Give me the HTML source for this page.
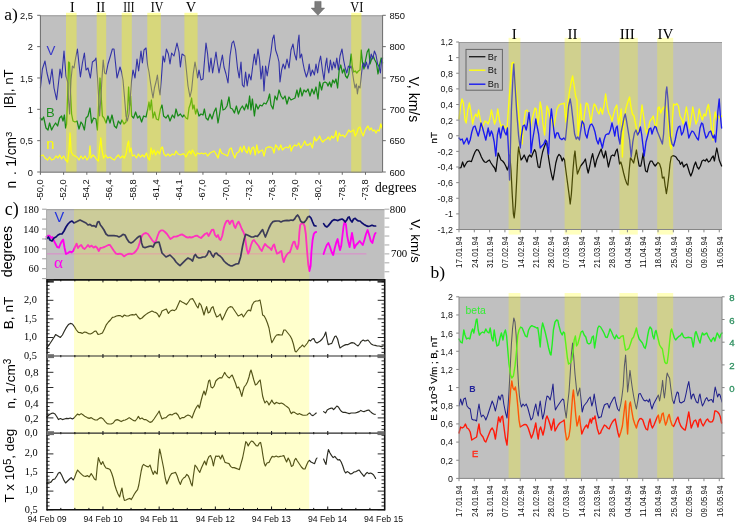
<!DOCTYPE html>
<html><head><meta charset="utf-8"><title>Figure</title>
<style>
html,body{margin:0;padding:0;background:#fff;}
body{width:735px;height:524px;overflow:hidden;font-family:"Liberation Sans",sans-serif;}
svg{display:block;will-change:transform;}
</style></head><body>
<svg width="735" height="524" viewBox="0 0 735 524">
<defs><clipPath id="clipq"><rect x="459.0" y="296.8" width="263.0" height="181.59999999999997"/></clipPath></defs>
<rect x="0" y="0" width="735" height="524" fill="#ffffff"/>
<rect x="40.4" y="15.3" width="342.20000000000005" height="156.7" fill="#c0c0c0" />
<line x1="40.4" y1="15.8" x2="382.6" y2="15.8" stroke="#9a9a9a" stroke-width="1"/>
<path d="M40.4,156 L43,155 L45,158 L47.6,160 L49.6,157 L51.6,160 L54,159 L56,156 L58,158 L59.6,155 L61.6,159 L63.6,156 L65.6,160 L67.6,162 L69,150 L70,133 L71.2,152 L73,155 L75,156 L77,157 L79,160 L81,156 L83,159 L85,156 L87,160 L89,157 L90,146 L91,158 L93,155 L95,157 L97,160 L98.4,161 L99.6,148 L100.8,138 L102,150 L103.6,158 L105.6,155 L107.6,158 L110,157 L112.4,159 L114.4,160 L116.4,157 L118.4,155 L120.4,158 L122.4,156 L124.4,158 L126,154 L127.6,144 L128.6,141 L129.6,152 L131,148 L132.4,156 L134.4,155 L136.4,158 L138.4,154 L140.4,157 L142.4,155 L144.4,157 L146.4,153 L148,158 L149.6,160 L151,148 L152.4,154 L154,150 L155.6,155 L157.6,151 L159.6,154 L161.2,148 L162.4,147 L164,154 L166,156 L168,154 L170,156 L172.4,154 L174.4,155 L176,151 L178,154 L180.4,155 L182.4,154 L184,154 L186,157 L188,153 L189.6,151 L191,154 L192.4,150 L194,153 L195.6,156 L197.6,153 L199.6,154 L201.6,153 L203.6,154 L205.6,153 L207.6,156 L210,153 L212,152 L214,151 L216,154 L218,158 L220,149 L221.6,153 L223.6,154 L225.6,155 L227.6,156 L229.6,149 L231.2,148 L232.8,153 L234.8,158 L236.8,153 L238.8,152 L240.4,147 L242,152 L244,146 L245.6,151 L247.2,153 L248.8,147 L250.4,154 L252,148 L253.6,147 L255.2,155 L256.8,145 L258.4,153 L260.4,151 L262.4,150 L264,156 L266,148 L268,147 L270.4,147 L272.4,148 L274,153 L275.6,145 L277.2,147 L278.8,150 L280.8,145 L282.4,150 L284.4,148 L286.4,147 L288.4,148 L290,145 L291.2,151 L292.8,147 L294.8,145 L296.8,146 L298.8,143 L300.8,148 L302.8,145 L304.8,141 L306.4,145 L308.4,145 L310.4,143 L312.4,148 L314.4,137 L316,141 L318,139 L319.6,136 L321.2,140 L322.8,142 L324.8,140 L326.8,139 L328.4,137 L330,140 L331.6,136 L333.2,138 L334.8,136 L336,131 L337.6,141 L339.2,133 L340.8,136 L342.8,135 L344.8,137 L346.8,134 L348.8,130 L350.4,132 L352,131 L353.6,130 L355.2,136 L356.8,133 L358.4,128 L360,127 L361.6,132 L363.2,136 L364.8,131 L366.4,128 L368,126 L369.6,130 L371.2,128 L372.8,131 L374.4,130 L376,133 L377.6,130 L379.2,131 L380.8,124 L382,128" fill="none" stroke="#ffff1a" stroke-width="1.3" stroke-linejoin="round" stroke-linecap="round" />
<path d="M40.4,118 L42,120 L43.6,117 L46,128 L48,130 L49.6,123 L51.6,130 L53.6,126 L55.6,123 L57.6,126 L59.6,118 L61.6,116 L63,121 L64.4,115 L65.6,128 L66.6,124 L67.6,96 L68.6,62 L69.6,63 L70.4,90 L71.6,114 L73,121 L75,122 L77,121 L79,129 L81,122 L82.4,124 L84.4,130 L86,118 L88,116 L90,108 L91.6,123 L93.6,118 L96,119 L97.4,130 L98.6,106 L100,78 L101.2,96 L102.4,116 L104,118 L106,123 L108,116 L110,123 L112,115 L114.4,126 L116.4,128 L118.4,121 L120.4,124 L122,120 L124,124 L126,122 L127.6,110 L128.6,87 L129.6,106 L130.6,96 L131.6,116 L133.6,118 L135.6,112 L137.6,118 L139.6,116 L141.6,122 L143.6,116 L146,117 L147.6,110 L149,102 L150,110 L151.4,100 L153,118 L154.6,112 L156.4,119 L158.4,120 L160.4,109 L162,105 L163.6,116 L166,118 L168,115 L170,121 L172.4,115 L174.4,118 L176,109 L178,116 L180.4,114 L182.4,117 L184,115 L186,118 L187.6,119 L189,108 L190.4,104 L191.6,98 L192.8,109 L194,105 L195.6,114 L197,109 L199,116 L201,114 L203,115 L204.4,109 L206,118 L208,120 L210,114 L212,119 L214,112 L216,108 L218,123 L219.6,114 L221.6,100 L223,110 L225,109 L227,106 L229,97 L230.4,108 L232.4,109 L234.4,113 L236.4,106 L238.4,114 L240.4,109 L242.4,106 L244.4,110 L246.4,104 L248,109 L249.6,96 L251,110 L252.4,99 L254.4,116 L256,104 L258,109 L260,105 L262,106 L264,103 L266,104 L268,100 L269.6,94 L271,105 L273,109 L275,96 L277,100 L279,90 L281,96 L283,99 L285,96 L287,104 L289,97 L291,100 L293,99 L295,98 L297,90 L298.4,97 L300.4,88 L302,96 L304,90 L306,92 L308,89 L310,96 L312,89 L314,94 L316,87 L318,99 L319.6,82 L321.6,90 L323.2,83 L325,82 L326.8,83 L328,86 L329.6,82 L331.2,87 L332.8,80 L334.4,83 L336,79 L337.6,88 L339.2,70 L340.8,65 L342.4,73 L344,69 L345.6,76 L347.2,78 L348.8,74 L350,64 L351.2,54 L352.4,67 L353.6,72 L355.2,71 L356.8,73 L358.4,71 L360,70 L361.2,50 L362.4,62 L364,69 L365.6,60 L367.2,52 L368.8,49 L370,64 L371.6,59 L373.2,56 L374.8,60 L376.4,63 L378,74 L379.6,65 L381.2,58 L382.6,63" fill="none" stroke="#178a17" stroke-width="1.25" stroke-linejoin="round" stroke-linecap="round" />
<path d="M40.4,88 L42.4,69 L45,61 L47,73 L49.6,84 L52,69 L54,88 L56.6,99.6 L58.6,82 L60,69 L61.6,78 L64,51 L66,76 L68,83 L68.4,98 L69.6,114 L71,80 L72.4,66 L74,68 L75.6,58 L77.4,49 L79,64 L80.4,77 L82.4,63 L84.4,53 L86,70 L88,68 L90.4,78 L92.4,62 L95,60 L96,58 L97.4,76 L98.6,96 L99.6,116 L101,96 L102,78 L103.2,60 L104.6,73 L106,74 L108,64 L110.4,56 L112.4,49 L114,49 L115.6,64 L117,78 L118.4,73 L120,67 L121.6,72 L123,80 L124.4,96 L126,116 L127.4,121 L129,114 L130.4,96 L131.6,80 L133,70 L135,78 L137,59 L138.6,71 L141,51 L142.4,63 L144,50 L146,48 L147.6,65 L149,72 L150.4,82 L151.6,90 L153,98 L154.4,88 L156,82 L157.4,75 L158.8,88 L160,95 L161.4,78 L163,56 L164.6,62 L166.4,49 L168.4,54 L170,64 L171.6,53 L174,56 L177,43 L179,52 L180.4,67 L182,54 L185,56 L186.4,70 L188,86 L190,97 L191.6,90 L193.2,74 L195,62 L196.4,70 L197.6,78 L199,70 L201,80 L203,79 L204.4,62 L206,43 L207.6,54 L209.2,72 L211,58 L212.6,73 L214.4,62 L216,52 L217.4,63 L219,73 L220.6,64 L222.4,55 L224,67 L226,74 L228,83 L230,56 L232,43 L233.6,41 L235.6,50 L237.6,69 L239.2,78 L241,62 L242.4,85 L244,87 L245.6,72 L247.2,86 L249,74 L251,80 L253,64 L254.4,54 L256,65 L258,49 L259.6,60 L261,79 L262.6,66 L264,91 L265.6,66 L267.2,76 L269,64 L271,52 L272.6,39 L274,35 L275.6,50 L277.6,56 L279,62 L280,82 L281.6,70 L283.2,64 L285,69 L287,59 L289,68 L291,50 L293,44 L294.6,54 L296.4,60 L298,42 L299,35 L300,58 L301.6,54 L303,63 L304.4,70 L306.4,77 L308,72 L309.2,64 L310.6,76 L312.4,70 L314.4,75 L316,64 L317.6,73 L319,63 L320.6,56 L322.4,70 L324,80 L325.6,64 L326.8,58 L327.2,65 L328.8,73 L330.4,60 L332,70 L333.6,62 L335.2,68 L336.8,58 L338.4,70 L340,56 L342,49 L343.6,60 L345.2,68 L346.8,73 L348.4,66 L350,68 L351.2,66 L352.4,72 L353.6,80 L355,88 L356.4,84 L357.4,94 L358.6,86 L360,88 L361.2,76 L362.4,66 L363.6,63 L365,67 L366.4,62 L368,69 L369.6,62 L371.2,54 L372.8,59 L374.4,51 L376,55 L377.6,64 L379.2,67 L380.4,73 L381.6,60 L382.6,58" fill="none" stroke="#3232a6" stroke-width="1.1" stroke-linejoin="round" stroke-linecap="round" />
<rect x="66" y="12.8" width="10.599999999999994" height="159.79999999999998" fill="#ffff00" fill-opacity="0.36"/>
<rect x="96.7" y="12.8" width="9.5" height="159.79999999999998" fill="#ffff00" fill-opacity="0.36"/>
<rect x="121.7" y="12.8" width="10.100000000000009" height="159.79999999999998" fill="#ffff00" fill-opacity="0.36"/>
<rect x="147.3" y="12.8" width="13.5" height="159.79999999999998" fill="#ffff00" fill-opacity="0.36"/>
<rect x="184.4" y="12.8" width="13.199999999999989" height="159.79999999999998" fill="#ffff00" fill-opacity="0.36"/>
<rect x="351.2" y="12.8" width="10.199999999999989" height="159.79999999999998" fill="#ffff00" fill-opacity="0.36"/>
<line x1="40.4" y1="15.3" x2="40.4" y2="172.0" stroke="#6a6a6a" stroke-width="1"/>
<line x1="40.4" y1="172.2" x2="382.6" y2="172.2" stroke="#6a6a6a" stroke-width="1"/>
<line x1="382.6" y1="15.3" x2="382.6" y2="172.0" stroke="#6a6a6a" stroke-width="1"/>
<line x1="37.199999999999996" y1="15.3" x2="40.4" y2="15.3" stroke="#6a6a6a" stroke-width="1"/>
<line x1="382.6" y1="15.3" x2="385.8" y2="15.3" stroke="#6a6a6a" stroke-width="1"/>
<line x1="37.199999999999996" y1="46.64" x2="40.4" y2="46.64" stroke="#6a6a6a" stroke-width="1"/>
<line x1="382.6" y1="46.64" x2="385.8" y2="46.64" stroke="#6a6a6a" stroke-width="1"/>
<line x1="37.199999999999996" y1="77.97999999999999" x2="40.4" y2="77.97999999999999" stroke="#6a6a6a" stroke-width="1"/>
<line x1="382.6" y1="77.97999999999999" x2="385.8" y2="77.97999999999999" stroke="#6a6a6a" stroke-width="1"/>
<line x1="37.199999999999996" y1="109.32" x2="40.4" y2="109.32" stroke="#6a6a6a" stroke-width="1"/>
<line x1="382.6" y1="109.32" x2="385.8" y2="109.32" stroke="#6a6a6a" stroke-width="1"/>
<line x1="37.199999999999996" y1="140.66" x2="40.4" y2="140.66" stroke="#6a6a6a" stroke-width="1"/>
<line x1="382.6" y1="140.66" x2="385.8" y2="140.66" stroke="#6a6a6a" stroke-width="1"/>
<line x1="37.199999999999996" y1="172.0" x2="40.4" y2="172.0" stroke="#6a6a6a" stroke-width="1"/>
<line x1="382.6" y1="172.0" x2="385.8" y2="172.0" stroke="#6a6a6a" stroke-width="1"/>
<text x="33.0" y="19.0" font-size="9.3" font-family="Liberation Sans, sans-serif" fill="#111" text-anchor="end" >2,5</text>
<text x="389.4" y="19.0" font-size="9.4" font-family="Liberation Sans, sans-serif" fill="#111" text-anchor="start" >850</text>
<text x="33.0" y="50.34" font-size="9.3" font-family="Liberation Sans, sans-serif" fill="#111" text-anchor="end" >2</text>
<text x="389.4" y="50.34" font-size="9.4" font-family="Liberation Sans, sans-serif" fill="#111" text-anchor="start" >800</text>
<text x="33.0" y="81.67999999999999" font-size="9.3" font-family="Liberation Sans, sans-serif" fill="#111" text-anchor="end" >1,5</text>
<text x="389.4" y="81.67999999999999" font-size="9.4" font-family="Liberation Sans, sans-serif" fill="#111" text-anchor="start" >750</text>
<text x="33.0" y="113.02" font-size="9.3" font-family="Liberation Sans, sans-serif" fill="#111" text-anchor="end" >1</text>
<text x="389.4" y="113.02" font-size="9.4" font-family="Liberation Sans, sans-serif" fill="#111" text-anchor="start" >700</text>
<text x="33.0" y="144.35999999999999" font-size="9.3" font-family="Liberation Sans, sans-serif" fill="#111" text-anchor="end" >0,5</text>
<text x="389.4" y="144.35999999999999" font-size="9.4" font-family="Liberation Sans, sans-serif" fill="#111" text-anchor="start" >650</text>
<text x="33.0" y="175.7" font-size="9.3" font-family="Liberation Sans, sans-serif" fill="#111" text-anchor="end" >0</text>
<text x="389.4" y="175.7" font-size="9.4" font-family="Liberation Sans, sans-serif" fill="#111" text-anchor="start" >600</text>
<line x1="40.4" y1="172.0" x2="40.4" y2="174.8" stroke="#6a6a6a" stroke-width="1"/>
<text transform="translate(42.8,200.6) rotate(-90) scale(1,1)" font-size="9.3" font-family="Liberation Sans, sans-serif" fill="#111" text-anchor="start" >-50,0</text>
<line x1="63.62" y1="172.0" x2="63.62" y2="174.8" stroke="#6a6a6a" stroke-width="1"/>
<text transform="translate(66.02,200.6) rotate(-90) scale(1,1)" font-size="9.3" font-family="Liberation Sans, sans-serif" fill="#111" text-anchor="start" >-52,0</text>
<line x1="86.84" y1="172.0" x2="86.84" y2="174.8" stroke="#6a6a6a" stroke-width="1"/>
<text transform="translate(89.24000000000001,200.6) rotate(-90) scale(1,1)" font-size="9.3" font-family="Liberation Sans, sans-serif" fill="#111" text-anchor="start" >-54,2</text>
<line x1="110.06" y1="172.0" x2="110.06" y2="174.8" stroke="#6a6a6a" stroke-width="1"/>
<text transform="translate(112.46000000000001,200.6) rotate(-90) scale(1,1)" font-size="9.3" font-family="Liberation Sans, sans-serif" fill="#111" text-anchor="start" >-56,4</text>
<line x1="133.28" y1="172.0" x2="133.28" y2="174.8" stroke="#6a6a6a" stroke-width="1"/>
<text transform="translate(135.68,200.6) rotate(-90) scale(1,1)" font-size="9.3" font-family="Liberation Sans, sans-serif" fill="#111" text-anchor="start" >-58,8</text>
<line x1="156.5" y1="172.0" x2="156.5" y2="174.8" stroke="#6a6a6a" stroke-width="1"/>
<text transform="translate(158.9,200.6) rotate(-90) scale(1,1)" font-size="9.3" font-family="Liberation Sans, sans-serif" fill="#111" text-anchor="start" >-61,4</text>
<line x1="179.72" y1="172.0" x2="179.72" y2="174.8" stroke="#6a6a6a" stroke-width="1"/>
<text transform="translate(182.12,200.6) rotate(-90) scale(1,1)" font-size="9.3" font-family="Liberation Sans, sans-serif" fill="#111" text-anchor="start" >-64,1</text>
<line x1="202.94" y1="172.0" x2="202.94" y2="174.8" stroke="#6a6a6a" stroke-width="1"/>
<text transform="translate(205.34,200.6) rotate(-90) scale(1,1)" font-size="9.3" font-family="Liberation Sans, sans-serif" fill="#111" text-anchor="start" >-67,0</text>
<line x1="226.16" y1="172.0" x2="226.16" y2="174.8" stroke="#6a6a6a" stroke-width="1"/>
<text transform="translate(228.56,200.6) rotate(-90) scale(1,1)" font-size="9.3" font-family="Liberation Sans, sans-serif" fill="#111" text-anchor="start" >-70,0</text>
<line x1="249.38" y1="172.0" x2="249.38" y2="174.8" stroke="#6a6a6a" stroke-width="1"/>
<text transform="translate(251.78,200.6) rotate(-90) scale(1,1)" font-size="9.3" font-family="Liberation Sans, sans-serif" fill="#111" text-anchor="start" >-73,2</text>
<line x1="272.59999999999997" y1="172.0" x2="272.59999999999997" y2="174.8" stroke="#6a6a6a" stroke-width="1"/>
<text transform="translate(274.99999999999994,200.6) rotate(-90) scale(1,1)" font-size="9.3" font-family="Liberation Sans, sans-serif" fill="#111" text-anchor="start" >-76,3</text>
<line x1="295.82" y1="172.0" x2="295.82" y2="174.8" stroke="#6a6a6a" stroke-width="1"/>
<text transform="translate(298.21999999999997,200.6) rotate(-90) scale(1,1)" font-size="9.3" font-family="Liberation Sans, sans-serif" fill="#111" text-anchor="start" >-79,0</text>
<line x1="319.03999999999996" y1="172.0" x2="319.03999999999996" y2="174.8" stroke="#6a6a6a" stroke-width="1"/>
<text transform="translate(321.43999999999994,200.6) rotate(-90) scale(1,1)" font-size="9.3" font-family="Liberation Sans, sans-serif" fill="#111" text-anchor="start" >-80,2</text>
<line x1="342.26" y1="172.0" x2="342.26" y2="174.8" stroke="#6a6a6a" stroke-width="1"/>
<text transform="translate(344.65999999999997,200.6) rotate(-90) scale(1,1)" font-size="9.3" font-family="Liberation Sans, sans-serif" fill="#111" text-anchor="start" >-78,3</text>
<line x1="365.47999999999996" y1="172.0" x2="365.47999999999996" y2="174.8" stroke="#6a6a6a" stroke-width="1"/>
<text transform="translate(367.87999999999994,200.6) rotate(-90) scale(1,1)" font-size="9.3" font-family="Liberation Sans, sans-serif" fill="#111" text-anchor="start" >-73,8</text>
<text x="375" y="191.5" font-size="13.6" font-family="Liberation Serif, serif" fill="#000" text-anchor="start" >degrees</text>
<text x="70.10000000000001" y="12.0" font-size="14" font-family="Liberation Serif, serif" fill="#000" text-anchor="start" textLength="4.6" lengthAdjust="spacingAndGlyphs">I</text>
<text x="96.3" y="12.0" font-size="14" font-family="Liberation Serif, serif" fill="#000" text-anchor="start" textLength="8.8" lengthAdjust="spacingAndGlyphs">II</text>
<text x="123.30000000000001" y="12.0" font-size="14" font-family="Liberation Serif, serif" fill="#000" text-anchor="start" textLength="11.2" lengthAdjust="spacingAndGlyphs">III</text>
<text x="150.79999999999998" y="12.0" font-size="14" font-family="Liberation Serif, serif" fill="#000" text-anchor="start" textLength="12.6" lengthAdjust="spacingAndGlyphs">IV</text>
<text x="185.70000000000002" y="12.0" font-size="14" font-family="Liberation Serif, serif" fill="#000" text-anchor="start" textLength="10.4" lengthAdjust="spacingAndGlyphs">V</text>
<text x="350.3" y="12.0" font-size="14" font-family="Liberation Serif, serif" fill="#000" text-anchor="start" textLength="13" lengthAdjust="spacingAndGlyphs">VI</text>
<path d="M314.8,1.4 H321.1 V8.1 H324.6 L317.9,15.3 L311.2,8.1 H314.8 Z" fill="#7c7c7c" stroke="#606060" stroke-width="0.5"/>
<text x="4.2" y="19.6" font-size="17.5" font-family="Liberation Serif, serif" fill="#000" text-anchor="start" >a)</text>
<text x="46.4" y="54.8" font-size="13.3" font-family="Liberation Sans, sans-serif" fill="#3838c8" text-anchor="start" >V</text>
<text x="46.0" y="117.1" font-size="13" font-family="Liberation Sans, sans-serif" fill="#1f8f1f" text-anchor="start" >B</text>
<text x="46.2" y="148.8" font-size="14.6" font-family="Liberation Sans, sans-serif" fill="#ffff00" text-anchor="start" >n</text>
<text transform="translate(12.9,108.2) rotate(-90) scale(1,1)" font-size="13.4" font-family="Liberation Sans, sans-serif" fill="#000" text-anchor="start" >|B|, nT</text>
<text transform="translate(16.0,188.6) rotate(-90) scale(1,1)" font-size="13.8" font-family="Liberation Sans, sans-serif" fill="#000" text-anchor="start" >n</text>
<text transform="translate(16.0,175.0) rotate(-90) scale(1,1)" font-size="13.8" font-family="Liberation Sans, sans-serif" fill="#000" text-anchor="start" >.</text>
<text transform="translate(16.0,166.8) rotate(-90) scale(1,1)" font-size="13.8" font-family="Liberation Sans, sans-serif" fill="#000" text-anchor="start" >1/cm<tspan dy="-4.5" font-size="9.5">3</tspan></text>
<text transform="translate(409.4,76.8) rotate(90) scale(1,1)" font-size="14.0" font-family="Liberation Sans, sans-serif" fill="#000" text-anchor="start" >V, km/s</text>
<rect x="46.6" y="209.2" width="337.9" height="70.10000000000002" fill="#c0c0c0" />
<line x1="46.6" y1="209.7" x2="384.5" y2="209.7" stroke="#9a9a9a" stroke-width="1"/>
<line x1="46.6" y1="253.9" x2="366.4" y2="253.9" stroke="#dd88cc" stroke-width="1.0"/>
<path d="M46.4,237 L48,235.6 L49.6,235.6 L51,238 L52.4,237 L54,241 L55.6,244 L57.2,247 L59,247.6 L60.4,244 L62,241 L63.2,239.6 L64.6,248 L66,254 L68,253 L70,251.6 L71.6,252.4 L73.2,251 L75,247 L76.6,243.6 L78,248 L79.6,246 L81.2,245 L83,248 L84.6,249 L86.4,247 L88,245 L89.6,247 L91.6,245.6 L93.6,247.6 L95.6,246.4 L97.2,248 L98.8,251 L100.4,248 L102.4,247.6 L104.4,247 L106.4,246 L108.4,245 L110,245 L112,248 L114,251 L116,253.6 L118,254 L120,253.6 L122,254.4 L124,256.4 L126,255 L128,254 L130,253.6 L132,254 L134,253 L136,251 L138,248 L139.6,243 L141,238 L142.4,235 L144,233.6 L146,233 L148,234 L150,237 L152,240 L154,242.4 L156,241 L157.6,236 L159.2,232 L161,230.4 L163,230.4 L165,232 L167,234 L169,237 L170.4,239 L172,238 L174,236.6 L176,236.6 L178,236 L180,235 L182,234.4 L184,235.6 L186,237 L188,237.6 L190,237 L191,237.6 L193,237 L195,236 L197,235.6 L199,237 L201,238 L203,236 L205,234 L207,233 L208.6,236 L210.2,233 L211.8,230 L213.4,229.6 L215,235 L216.6,237 L218,235 L219.4,239 L220.6,240 L222.2,236 L223.8,228 L225,224 L226.6,221 L228.2,220.6 L229.8,224 L231.4,221 L232.6,220.6 L234.2,226 L235.4,228 L237,224 L238.6,221.6 L240.2,225 L241.8,229 L243.4,232 L244.6,235 L245.8,243 L247,250 L248.2,253.6 L249.4,251 L251,245 L252.6,241 L254,240 L255.4,242 L257,244 L258.6,246 L260.2,249 L261.8,251 L263.4,247 L265,244 L266.6,245.6 L268.2,247 L269.8,248 L271.4,250 L273,245.6 L274.2,244.4 L275.4,249 L277,253.6 L278.6,253 L280.2,251.6 L281.4,251 L282.6,258 L283.8,262 L285,258 L286.6,255 L288.2,253 L289.8,252.4 L291,249 L292.2,245 L293.4,242 L294.6,241.6 L295.8,246 L297.4,249 L298.6,244 L299.4,232 L300.2,225 L301.4,223.6 L303,223 L304.6,226 L305.8,234 L307,250 L308.2,264 L309.4,271 L310.6,266 L311.4,252 L312.6,240 L313.8,234 L315,232.4 L316.2,232" fill="none" stroke="#ff00ee" stroke-width="1.85" stroke-linejoin="round" stroke-linecap="round" />
<path d="M323.6,254 L325.2,249 L326.8,245 L328.4,243 L330,247 L331.6,252 L333.2,255 L334.8,248 L336.4,242 L337.6,239 L338.8,245 L340,250 L341.2,246 L342.4,236 L343.6,226 L344.8,221 L346,225 L347.2,236 L348.4,242 L349.6,247 L350.8,240 L352,233 L353.2,240 L354.4,248 L356,245 L358,243 L359.6,241 L361.2,243 L362.8,245 L364.4,240 L366,234 L367.6,230 L369.2,235 L370.8,241 L372.4,243 L373.6,238 L374.8,234 L375.6,233" fill="none" stroke="#ff00ee" stroke-width="1.85" stroke-linejoin="round" stroke-linecap="round" />
<path d="M46.4,239 L48.4,237 L50,240 L52,241 L54,238 L56,237 L58,235 L60,234 L62,234 L64,231 L66,227 L68,224 L70,222 L72,221 L74,223 L76,222 L78,221 L80,220 L82,221 L84,222 L86,223 L88,225 L90,224.4 L92,226 L94,225.6 L96,227 L97.6,222 L99,221.6 L100.4,225 L102,227 L104,230 L106,234 L108,235.6 L111,235.6 L114,235.6 L117,236 L119,237 L121,236 L123,234.4 L125,235 L127,239 L129,242 L131,243 L133,242 L135,240 L137,238 L139,236.4 L140.4,236 L141.6,243 L143,247 L145,247.6 L147,247 L149,246.4 L151,246 L153,247 L155,243 L157,242.4 L159,242 L160.4,247 L162,253 L164,255 L166,257 L168,256 L170,255 L172,257 L174,259 L176,262 L178,264 L180,265.6 L182,263.6 L184,261.6 L186,259.6 L188,258 L190,259 L191,259.6 L192.6,261 L194.2,256 L195.4,254.4 L197,257 L199,258 L201,257.6 L203,257 L205,257 L207,255 L208.6,251 L210.2,251.6 L211.8,255 L213.4,257 L215,253.6 L216.6,253 L218.2,255 L220,256 L222,258 L224,261 L226,263 L228,264.4 L230,265.6 L232,266 L234,265 L236,264 L238.6,263.6 L240.6,257 L242.6,246 L244.2,239 L245.6,234.4 L247.4,235 L249.4,236 L251.4,237 L253.4,237 L255.4,236 L257.4,236.4 L259.4,234 L261.4,231 L262.6,229.6 L264.2,234 L265.4,237 L267,233 L269,228 L271,224 L273,221.6 L275,221.2 L277,221 L279,221 L281,222 L283,221 L285,220.6 L287,220.4 L289,220.6 L291,220 L293,220.4 L294.6,219 L296.2,216.4 L297.6,215 L299,217 L300.6,221 L302.2,222.4 L304.2,222.4 L306.2,220 L307.8,217 L309.4,216.4 L311,218 L312.6,222 L314.2,225.6 L316,226" fill="none" stroke="#0c0c6e" stroke-width="1.7" stroke-linejoin="round" stroke-linecap="round" />
<path d="M323.6,223.6 L325.2,226 L326.8,227 L328.4,225.6 L330,223.6 L332,221 L334,219.6 L336,220 L338,220.6 L340,219.6 L342,219 L343.6,220 L345.2,222 L346.8,220 L348,217.6 L349.2,217 L350.4,220 L352,222 L353.6,219 L355.2,218.4 L356.8,220 L358.4,221 L360,221 L362,223 L364,224.4 L366,225.6 L368,226.4 L370,226 L372,225.2 L374,226 L375.6,226" fill="none" stroke="#0c0c6e" stroke-width="1.7" stroke-linejoin="round" stroke-linecap="round" />
<path d="M46.8,348 L49,345 L51,342 L53.6,338 L55.6,334.6 L58,336 L60.4,337.4 L62.4,335 L64.4,331 L66.4,327.4 L68.4,324.6 L70.4,323.4 L72.4,324 L74.4,326.6 L76.4,330 L78.4,332.4 L80.4,332.6 L82.4,333.4 L84.4,332 L86.4,332.4 L88.4,333.6 L90.4,334 L92.4,333 L94.4,331.4 L96,331 L98,334.4 L100,334 L102.4,333 L104.4,329 L106.4,324.6 L108.4,322 L110.4,320 L112.4,317.4 L114.4,317 L116.4,316 L118.4,315.6 L120.4,315.6 L122.4,317 L124.4,315 L126.4,316 L128.4,316 L130.4,315 L132.4,314.6 L134.4,315 L136,314 L138,317 L140,319 L142,318 L144,316 L146,314.4 L148,313 L150,312 L152,311 L154,312 L156,312.6 L157.6,314 L159.2,317 L160.8,314 L162,311 L164,310 L166.4,309 L168.4,313.4 L170.4,311 L172.4,310 L174.4,310.6 L176,309.4 L178,305 L180,300.6 L182,302 L184,303 L186.4,304.6 L188.4,302 L190.4,299 L191,299 L192.6,298.6 L194.6,302 L196.6,306 L198,308 L199.4,303 L201,305 L202.6,310 L204,315 L205.4,310 L206.6,306.6 L208.2,313 L209.8,312 L211.4,308 L213,306.6 L214.6,312 L216.6,317 L218.6,316 L220.2,314 L222.2,320 L224.2,316 L226.2,311.4 L228.2,308 L230.2,306.6 L232.2,307 L234.2,310 L236.2,313 L238.2,316 L240.2,315 L241.8,314 L243.4,317 L245.4,314 L247.4,311 L249,310 L250.6,311 L252.2,305 L254,302 L256,301 L258,301 L260,300 L261.4,307 L262.6,315 L264.2,316 L265.8,319 L267.4,323 L269,328 L270.6,337 L271.8,342.6 L273.4,340 L275,337 L276.6,335 L278.6,334.6 L280.6,335 L282.2,335 L283.8,330 L285.4,330 L287,332 L288.6,334 L290.2,336 L291.8,339 L293.4,344 L295,351 L296.2,352 L297.8,350 L299.4,348 L301,346.6 L302.6,345 L304.2,347 L305.8,345 L307.4,343 L309,340 L310.6,341 L312.2,339 L313.8,338.6 L315.4,342 L317,343 L318.6,342 L320.2,341 L322.2,339 L324.2,336 L325.8,332 L327,339 L328.2,344.6 L329.8,344 L331.8,343.4 L333.2,340 L334.8,336.6 L336,336 L337.6,339 L338.8,344 L340,348 L342,346.6 L344,345.4 L346,344.6 L348,344.6 L350,343.4 L352,342.6 L354,343 L356,344.6 L358,346 L359.6,344 L361.2,341.4 L363.2,340 L364.8,341 L366.4,340.6 L368,340 L369.6,342 L371.2,344 L373.2,345 L375.2,345.4 L377.2,346 L379.2,346 L381.2,346.6 L383.2,346" fill="none" stroke="#2a2a20" stroke-width="1.15" stroke-linejoin="round" stroke-linecap="round" />
<path d="M46.8,417 L49,415 L51,413.6 L53,413 L55,414 L57,417 L58.4,419.6 L60.4,418.6 L62.4,419.6 L64.4,419 L66.4,418.4 L68.4,418.6 L70.4,418 L72.4,419 L74,418 L76,415.6 L77.6,414 L79.2,415 L81.2,413.6 L83.2,415 L85.2,416.6 L87.2,417.6 L89.2,418.4 L91.2,417.6 L93.2,419 L95.2,420 L97.2,420 L99.2,418.4 L101.2,417.6 L103.2,419 L105.2,421.6 L107.2,423.6 L109.2,424 L111.2,424 L113.2,423 L115.2,420.4 L117.2,419.6 L119.2,420.4 L121.2,421.6 L123.2,420.4 L125.2,420 L127.2,419 L129.2,417.6 L131.2,419 L133.2,420.4 L135.2,421 L136.8,419 L138.4,416.4 L140,419 L142,418 L144,419.6 L146,419.6 L148,421 L150,422.4 L152,421.6 L154,419 L156,416 L158,413 L159.2,411 L160.4,415 L162,419 L164,418 L166,417.6 L168,415.6 L170,414.4 L172,415 L174,413.6 L176,413 L178,415 L180,419 L182,417.6 L184,417.6 L186,416 L188,415 L190.4,416 L192,418 L193.4,414 L195,410 L196.6,407 L198,405 L199.4,408 L201,401 L202.6,395 L204,391 L205.4,395 L207,389 L208.6,381 L209.8,380 L211,387 L212.6,388 L214.2,386 L215.8,381 L217.8,379 L219.8,377.6 L221.8,378 L223.4,375 L224.6,372.4 L226.2,375 L227.8,377 L229.4,378 L231,376 L232.2,375 L233.8,379 L235.4,383 L237,388 L238.6,387 L240.2,391 L241.8,396.4 L243,391 L244.2,387 L245.8,385 L247.4,382 L249,377 L250.2,372 L251,370 L252.2,374 L253.8,380 L255.4,385 L257,384 L258.6,381.6 L260.2,380 L261.4,388 L262.6,396 L263.8,400 L265,403 L266.6,401 L267.8,402.4 L269,405 L270.6,402.4 L271.8,400 L273,402.4 L274.6,404 L276.2,402.4 L277.8,403 L279.4,403.6 L281.4,403 L283.4,404 L285.4,405.6 L287.4,407 L289,408.4 L290.2,411.6 L291.4,413.6 L293,412 L294.6,412.4 L296.2,413.6 L297.8,414.4 L299.4,413.6 L301,414.4 L303,415.2 L305,415.2 L307,415 L308.6,413.6 L309.8,413 L311.4,415 L313,415.6 L314.6,414.4 L316.2,413" fill="none" stroke="#2a2a20" stroke-width="1.15" stroke-linejoin="round" stroke-linecap="round" />
<path d="M323.6,411.6 L325.6,413 L327.2,410 L328.8,409 L330.4,408.4 L332,408 L333.6,409.6 L335.2,408 L336.8,406 L338.4,407 L340,409.6 L341.6,411.6 L343.2,412.4 L345.2,412.4 L347.2,413 L349.2,413.6 L351.2,413 L353.2,413 L355.2,413 L357.2,412.4 L359.2,411.6 L360.8,410.4 L362.4,411.2 L364,411.6 L365.6,411 L367.2,410.4 L368.8,410 L370.4,411.6 L372,413 L373.6,414 L375.2,414.4" fill="none" stroke="#2a2a20" stroke-width="1.15" stroke-linejoin="round" stroke-linecap="round" />
<path d="M46.8,483 L48.8,482 L50.8,482.4 L52.8,479.6 L54.8,479 L56.8,476 L58.4,473 L60,472.4 L61.6,475 L63.6,479.6 L65.6,483 L67.6,481 L69.6,479 L71.2,477.6 L73.2,480 L74.4,478 L76,473.6 L77.6,470 L79.6,472.4 L81.6,474.4 L83.6,476 L85.6,476.4 L87.6,475.6 L89.2,477 L91.2,473.6 L92.8,476 L94.4,479 L96,480 L97.2,467 L98.4,457.6 L100,462 L101.2,464.4 L102.8,461.6 L104.4,465.6 L106,468 L108,468.6 L110,469.6 L111.6,473 L113.2,478 L114.8,485 L116.4,490 L118,494 L119.6,497 L120.8,492 L122,488 L123.2,496 L124.4,500.4 L126,500 L128,499 L130,498.4 L131.2,499.6 L132.8,497 L134.4,494 L136,491.6 L137.6,489.6 L138.8,485 L140,478 L141.2,471 L142.4,466 L143.6,464.4 L145.2,465.6 L146.8,466.4 L148.4,467 L150,465 L151.6,470 L153.2,474.4 L154.8,471 L156,473 L157.2,474 L158.4,460 L159.6,449 L160.8,454 L162,460 L163.6,468 L165.2,478 L166.8,484 L168.4,480 L170,476 L171.6,473.6 L173.6,473 L175.6,472.4 L177.2,476 L178.8,481 L180.4,484.4 L182,480 L183.6,478 L185.2,477 L186.8,474.4 L188.4,476 L190,480 L191,483.6 L192.2,486 L193.4,476 L195,465 L196.6,467 L198.2,470 L199.8,472.4 L201.4,468 L203,464.4 L204.6,461 L206.2,465 L207.4,460 L209,456.4 L210.6,455.6 L212.2,460 L213.4,466 L214.6,460 L215.8,456 L217.4,456.4 L219,456 L220.6,459 L222.2,455 L223.4,458 L225,462.4 L227,463 L229,463.6 L230.6,466.4 L232.2,467.6 L234.2,467.6 L236.2,468.4 L237.8,469 L239.4,469.6 L241,463.6 L242.6,458 L244.2,450 L245.8,441.6 L247,443 L248.2,446 L249.8,443 L251.4,441 L253,441.6 L254.6,443.6 L256.2,445.6 L257.8,446 L259.4,443 L260.6,442.4 L261.8,448 L263,456 L264.2,463 L265.4,466 L267,463 L269,462.4 L270.6,459 L272.2,456.4 L274.2,457 L276.2,456 L278.2,457 L280.2,456.4 L282.2,456 L283.8,455.6 L285,458.4 L286.6,462 L288.2,458 L289.8,461 L291.4,466.4 L293,465.6 L294.6,460 L295.8,458.4 L297.4,461 L299.4,464 L301.4,467 L303.4,469 L305,469 L306.6,465 L308.2,461.6 L309.4,460.4 L311,462 L313,463 L314.6,463.6 L316.2,459 L317,458" fill="none" stroke="#2a2a20" stroke-width="1.15" stroke-linejoin="round" stroke-linecap="round" />
<path d="M323.6,459 L324.8,462 L326,464.4 L327.2,456 L328.4,449.6 L330,453 L331.6,455.6 L333.2,457.6 L334.8,456.4 L336.4,458.4 L338,460 L339.6,459.6 L341.2,462 L342.8,466 L344.4,471 L345.6,473 L347.2,471.6 L348.8,472.4 L350.4,474 L352,473.6 L354,472 L356,471.6 L358,470.4 L359.2,470 L360.8,472.4 L362.4,474.4 L364,476.4 L365.6,474 L367.2,472.4 L368.8,473.6 L370.4,473 L372,473.6 L373.6,475 L374.8,477 L375.6,478.4" fill="none" stroke="#2a2a20" stroke-width="1.15" stroke-linejoin="round" stroke-linecap="round" />
<rect x="74.0" y="209.2" width="235.2" height="300.6" fill="#ffff00" fill-opacity="0.2"/>
<line x1="42.1" y1="209.2" x2="46.6" y2="209.2" stroke="#9a9a9a" stroke-width="1"/>
<line x1="42.1" y1="219.11999999999998" x2="46.6" y2="219.11999999999998" stroke="#9a9a9a" stroke-width="1"/>
<line x1="42.1" y1="229.04" x2="46.6" y2="229.04" stroke="#9a9a9a" stroke-width="1"/>
<line x1="42.1" y1="238.95999999999998" x2="46.6" y2="238.95999999999998" stroke="#9a9a9a" stroke-width="1"/>
<line x1="42.1" y1="248.88" x2="46.6" y2="248.88" stroke="#9a9a9a" stroke-width="1"/>
<line x1="42.1" y1="258.8" x2="46.6" y2="258.8" stroke="#9a9a9a" stroke-width="1"/>
<line x1="42.1" y1="268.71999999999997" x2="46.6" y2="268.71999999999997" stroke="#9a9a9a" stroke-width="1"/>
<line x1="42.1" y1="278.64" x2="46.6" y2="278.64" stroke="#9a9a9a" stroke-width="1"/>
<line x1="46.6" y1="209.2" x2="46.6" y2="279.3" stroke="#aaaaaa" stroke-width="1"/>
<line x1="384.5" y1="209.2" x2="389.3" y2="209.2" stroke="#a8a8a8" stroke-width="1"/>
<line x1="384.5" y1="218.14" x2="389.3" y2="218.14" stroke="#a8a8a8" stroke-width="1"/>
<line x1="384.5" y1="227.07999999999998" x2="389.3" y2="227.07999999999998" stroke="#a8a8a8" stroke-width="1"/>
<line x1="384.5" y1="236.01999999999998" x2="389.3" y2="236.01999999999998" stroke="#a8a8a8" stroke-width="1"/>
<line x1="384.5" y1="244.95999999999998" x2="389.3" y2="244.95999999999998" stroke="#a8a8a8" stroke-width="1"/>
<line x1="384.5" y1="253.89999999999998" x2="389.3" y2="253.89999999999998" stroke="#a8a8a8" stroke-width="1"/>
<line x1="384.5" y1="262.84" x2="389.3" y2="262.84" stroke="#a8a8a8" stroke-width="1"/>
<line x1="384.5" y1="271.78" x2="389.3" y2="271.78" stroke="#a8a8a8" stroke-width="1"/>
<text x="38.8" y="212.79999999999998" font-size="10.3" font-family="Liberation Serif, serif" fill="#000" text-anchor="end" >180</text>
<text x="38.8" y="232.6" font-size="10.3" font-family="Liberation Serif, serif" fill="#000" text-anchor="end" >140</text>
<text x="38.8" y="252.5" font-size="10.3" font-family="Liberation Serif, serif" fill="#000" text-anchor="end" >100</text>
<text x="38.8" y="272.3" font-size="10.3" font-family="Liberation Serif, serif" fill="#000" text-anchor="end" >60</text>
<text x="389.8" y="213.0" font-size="10.8" font-family="Liberation Serif, serif" fill="#000" text-anchor="start" >800</text>
<text x="391.0" y="256.9" font-size="10.8" font-family="Liberation Serif, serif" fill="#000" text-anchor="start" >700</text>
<text x="4.8" y="215.4" font-size="18" font-family="Liberation Serif, serif" fill="#000" text-anchor="start" >c)</text>
<text x="54.6" y="221.8" font-size="14.5" font-family="Liberation Sans, sans-serif" fill="#2233dd" text-anchor="start" >V</text>
<text x="54.0" y="267.8" font-size="17" font-family="Liberation Serif, serif" fill="#ff00ee" text-anchor="start" >α</text>
<text transform="translate(12.3,277.2) rotate(-90) scale(1,1)" font-size="14.2" font-family="Liberation Sans, sans-serif" fill="#000" text-anchor="start" >degrees</text>
<text transform="translate(411.4,219.2) rotate(90) scale(1,1)" font-size="13.4" font-family="Liberation Sans, sans-serif" fill="#000" text-anchor="start" >V, km/s</text>
<line x1="46.9" y1="279.9" x2="384.8" y2="279.9" stroke="#111" stroke-width="1.7"/>
<rect x="46.6" y="279.6" width="7.2" height="3.0" fill="#333" />
<rect x="377.5" y="279.6" width="7.0" height="3.0" fill="#333" />
<line x1="46.9" y1="356.0" x2="384.8" y2="356.0" stroke="#2a2a2a" stroke-width="1.1"/>
<line x1="46.9" y1="433.1" x2="384.8" y2="433.1" stroke="#2a2a2a" stroke-width="1.1"/>
<line x1="46.9" y1="509.7" x2="384.8" y2="509.7" stroke="#111" stroke-width="1.5"/>
<line x1="47.0" y1="279" x2="47.0" y2="510.4" stroke="#111" stroke-width="1.5"/>
<line x1="384.7" y1="279" x2="384.7" y2="510.4" stroke="#111" stroke-width="1.6"/>
<line x1="46.6" y1="356.1" x2="53.4" y2="356.1" stroke="#111" stroke-width="0.9"/>
<line x1="377.7" y1="356.1" x2="384.5" y2="356.1" stroke="#111" stroke-width="0.9"/>
<line x1="46.6" y1="352.38" x2="49.6" y2="352.38" stroke="#111" stroke-width="0.9"/>
<line x1="381.5" y1="352.38" x2="384.5" y2="352.38" stroke="#111" stroke-width="0.9"/>
<line x1="46.6" y1="348.65999999999997" x2="49.6" y2="348.65999999999997" stroke="#111" stroke-width="0.9"/>
<line x1="381.5" y1="348.65999999999997" x2="384.5" y2="348.65999999999997" stroke="#111" stroke-width="0.9"/>
<line x1="46.6" y1="344.93999999999994" x2="49.6" y2="344.93999999999994" stroke="#111" stroke-width="0.9"/>
<line x1="381.5" y1="344.93999999999994" x2="384.5" y2="344.93999999999994" stroke="#111" stroke-width="0.9"/>
<line x1="46.6" y1="341.2199999999999" x2="49.6" y2="341.2199999999999" stroke="#111" stroke-width="0.9"/>
<line x1="381.5" y1="341.2199999999999" x2="384.5" y2="341.2199999999999" stroke="#111" stroke-width="0.9"/>
<line x1="46.6" y1="337.4999999999999" x2="53.4" y2="337.4999999999999" stroke="#111" stroke-width="0.9"/>
<line x1="377.7" y1="337.4999999999999" x2="384.5" y2="337.4999999999999" stroke="#111" stroke-width="0.9"/>
<line x1="46.6" y1="333.77999999999986" x2="49.6" y2="333.77999999999986" stroke="#111" stroke-width="0.9"/>
<line x1="381.5" y1="333.77999999999986" x2="384.5" y2="333.77999999999986" stroke="#111" stroke-width="0.9"/>
<line x1="46.6" y1="330.05999999999983" x2="49.6" y2="330.05999999999983" stroke="#111" stroke-width="0.9"/>
<line x1="381.5" y1="330.05999999999983" x2="384.5" y2="330.05999999999983" stroke="#111" stroke-width="0.9"/>
<line x1="46.6" y1="326.3399999999998" x2="49.6" y2="326.3399999999998" stroke="#111" stroke-width="0.9"/>
<line x1="381.5" y1="326.3399999999998" x2="384.5" y2="326.3399999999998" stroke="#111" stroke-width="0.9"/>
<line x1="46.6" y1="322.6199999999998" x2="49.6" y2="322.6199999999998" stroke="#111" stroke-width="0.9"/>
<line x1="381.5" y1="322.6199999999998" x2="384.5" y2="322.6199999999998" stroke="#111" stroke-width="0.9"/>
<line x1="46.6" y1="318.89999999999975" x2="53.4" y2="318.89999999999975" stroke="#111" stroke-width="0.9"/>
<line x1="377.7" y1="318.89999999999975" x2="384.5" y2="318.89999999999975" stroke="#111" stroke-width="0.9"/>
<line x1="46.6" y1="315.1799999999997" x2="49.6" y2="315.1799999999997" stroke="#111" stroke-width="0.9"/>
<line x1="381.5" y1="315.1799999999997" x2="384.5" y2="315.1799999999997" stroke="#111" stroke-width="0.9"/>
<line x1="46.6" y1="311.4599999999997" x2="49.6" y2="311.4599999999997" stroke="#111" stroke-width="0.9"/>
<line x1="381.5" y1="311.4599999999997" x2="384.5" y2="311.4599999999997" stroke="#111" stroke-width="0.9"/>
<line x1="46.6" y1="307.73999999999967" x2="49.6" y2="307.73999999999967" stroke="#111" stroke-width="0.9"/>
<line x1="381.5" y1="307.73999999999967" x2="384.5" y2="307.73999999999967" stroke="#111" stroke-width="0.9"/>
<line x1="46.6" y1="304.01999999999964" x2="49.6" y2="304.01999999999964" stroke="#111" stroke-width="0.9"/>
<line x1="381.5" y1="304.01999999999964" x2="384.5" y2="304.01999999999964" stroke="#111" stroke-width="0.9"/>
<line x1="46.6" y1="300.2999999999996" x2="53.4" y2="300.2999999999996" stroke="#111" stroke-width="0.9"/>
<line x1="377.7" y1="300.2999999999996" x2="384.5" y2="300.2999999999996" stroke="#111" stroke-width="0.9"/>
<line x1="46.6" y1="296.5799999999996" x2="49.6" y2="296.5799999999996" stroke="#111" stroke-width="0.9"/>
<line x1="381.5" y1="296.5799999999996" x2="384.5" y2="296.5799999999996" stroke="#111" stroke-width="0.9"/>
<line x1="46.6" y1="292.85999999999956" x2="49.6" y2="292.85999999999956" stroke="#111" stroke-width="0.9"/>
<line x1="381.5" y1="292.85999999999956" x2="384.5" y2="292.85999999999956" stroke="#111" stroke-width="0.9"/>
<line x1="46.6" y1="289.13999999999953" x2="49.6" y2="289.13999999999953" stroke="#111" stroke-width="0.9"/>
<line x1="381.5" y1="289.13999999999953" x2="384.5" y2="289.13999999999953" stroke="#111" stroke-width="0.9"/>
<line x1="46.6" y1="285.4199999999995" x2="49.6" y2="285.4199999999995" stroke="#111" stroke-width="0.9"/>
<line x1="381.5" y1="285.4199999999995" x2="384.5" y2="285.4199999999995" stroke="#111" stroke-width="0.9"/>
<line x1="46.6" y1="281.6999999999995" x2="49.6" y2="281.6999999999995" stroke="#111" stroke-width="0.9"/>
<line x1="381.5" y1="281.6999999999995" x2="384.5" y2="281.6999999999995" stroke="#111" stroke-width="0.9"/>
<line x1="46.6" y1="433.1" x2="53.4" y2="433.1" stroke="#111" stroke-width="0.9"/>
<line x1="377.7" y1="433.1" x2="384.5" y2="433.1" stroke="#111" stroke-width="0.9"/>
<line x1="46.6" y1="429.3" x2="49.6" y2="429.3" stroke="#111" stroke-width="0.9"/>
<line x1="381.5" y1="429.3" x2="384.5" y2="429.3" stroke="#111" stroke-width="0.9"/>
<line x1="46.6" y1="425.5" x2="49.6" y2="425.5" stroke="#111" stroke-width="0.9"/>
<line x1="381.5" y1="425.5" x2="384.5" y2="425.5" stroke="#111" stroke-width="0.9"/>
<line x1="46.6" y1="421.7" x2="49.6" y2="421.7" stroke="#111" stroke-width="0.9"/>
<line x1="381.5" y1="421.7" x2="384.5" y2="421.7" stroke="#111" stroke-width="0.9"/>
<line x1="46.6" y1="417.9" x2="53.4" y2="417.9" stroke="#111" stroke-width="0.9"/>
<line x1="377.7" y1="417.9" x2="384.5" y2="417.9" stroke="#111" stroke-width="0.9"/>
<line x1="46.6" y1="414.09999999999997" x2="49.6" y2="414.09999999999997" stroke="#111" stroke-width="0.9"/>
<line x1="381.5" y1="414.09999999999997" x2="384.5" y2="414.09999999999997" stroke="#111" stroke-width="0.9"/>
<line x1="46.6" y1="410.29999999999995" x2="49.6" y2="410.29999999999995" stroke="#111" stroke-width="0.9"/>
<line x1="381.5" y1="410.29999999999995" x2="384.5" y2="410.29999999999995" stroke="#111" stroke-width="0.9"/>
<line x1="46.6" y1="406.49999999999994" x2="49.6" y2="406.49999999999994" stroke="#111" stroke-width="0.9"/>
<line x1="381.5" y1="406.49999999999994" x2="384.5" y2="406.49999999999994" stroke="#111" stroke-width="0.9"/>
<line x1="46.6" y1="402.69999999999993" x2="53.4" y2="402.69999999999993" stroke="#111" stroke-width="0.9"/>
<line x1="377.7" y1="402.69999999999993" x2="384.5" y2="402.69999999999993" stroke="#111" stroke-width="0.9"/>
<line x1="46.6" y1="398.8999999999999" x2="49.6" y2="398.8999999999999" stroke="#111" stroke-width="0.9"/>
<line x1="381.5" y1="398.8999999999999" x2="384.5" y2="398.8999999999999" stroke="#111" stroke-width="0.9"/>
<line x1="46.6" y1="395.0999999999999" x2="49.6" y2="395.0999999999999" stroke="#111" stroke-width="0.9"/>
<line x1="381.5" y1="395.0999999999999" x2="384.5" y2="395.0999999999999" stroke="#111" stroke-width="0.9"/>
<line x1="46.6" y1="391.2999999999999" x2="49.6" y2="391.2999999999999" stroke="#111" stroke-width="0.9"/>
<line x1="381.5" y1="391.2999999999999" x2="384.5" y2="391.2999999999999" stroke="#111" stroke-width="0.9"/>
<line x1="46.6" y1="387.4999999999999" x2="53.4" y2="387.4999999999999" stroke="#111" stroke-width="0.9"/>
<line x1="377.7" y1="387.4999999999999" x2="384.5" y2="387.4999999999999" stroke="#111" stroke-width="0.9"/>
<line x1="46.6" y1="383.6999999999999" x2="49.6" y2="383.6999999999999" stroke="#111" stroke-width="0.9"/>
<line x1="381.5" y1="383.6999999999999" x2="384.5" y2="383.6999999999999" stroke="#111" stroke-width="0.9"/>
<line x1="46.6" y1="379.89999999999986" x2="49.6" y2="379.89999999999986" stroke="#111" stroke-width="0.9"/>
<line x1="381.5" y1="379.89999999999986" x2="384.5" y2="379.89999999999986" stroke="#111" stroke-width="0.9"/>
<line x1="46.6" y1="376.09999999999985" x2="49.6" y2="376.09999999999985" stroke="#111" stroke-width="0.9"/>
<line x1="381.5" y1="376.09999999999985" x2="384.5" y2="376.09999999999985" stroke="#111" stroke-width="0.9"/>
<line x1="46.6" y1="372.29999999999984" x2="53.4" y2="372.29999999999984" stroke="#111" stroke-width="0.9"/>
<line x1="377.7" y1="372.29999999999984" x2="384.5" y2="372.29999999999984" stroke="#111" stroke-width="0.9"/>
<line x1="46.6" y1="368.49999999999983" x2="49.6" y2="368.49999999999983" stroke="#111" stroke-width="0.9"/>
<line x1="381.5" y1="368.49999999999983" x2="384.5" y2="368.49999999999983" stroke="#111" stroke-width="0.9"/>
<line x1="46.6" y1="364.6999999999998" x2="49.6" y2="364.6999999999998" stroke="#111" stroke-width="0.9"/>
<line x1="381.5" y1="364.6999999999998" x2="384.5" y2="364.6999999999998" stroke="#111" stroke-width="0.9"/>
<line x1="46.6" y1="360.8999999999998" x2="49.6" y2="360.8999999999998" stroke="#111" stroke-width="0.9"/>
<line x1="381.5" y1="360.8999999999998" x2="384.5" y2="360.8999999999998" stroke="#111" stroke-width="0.9"/>
<line x1="46.6" y1="357.0999999999998" x2="49.6" y2="357.0999999999998" stroke="#111" stroke-width="0.9"/>
<line x1="381.5" y1="357.0999999999998" x2="384.5" y2="357.0999999999998" stroke="#111" stroke-width="0.9"/>
<line x1="46.6" y1="509.7" x2="53.4" y2="509.7" stroke="#111" stroke-width="0.9"/>
<line x1="377.7" y1="509.7" x2="384.5" y2="509.7" stroke="#111" stroke-width="0.9"/>
<line x1="46.6" y1="505.97999999999996" x2="49.6" y2="505.97999999999996" stroke="#111" stroke-width="0.9"/>
<line x1="381.5" y1="505.97999999999996" x2="384.5" y2="505.97999999999996" stroke="#111" stroke-width="0.9"/>
<line x1="46.6" y1="502.25999999999993" x2="49.6" y2="502.25999999999993" stroke="#111" stroke-width="0.9"/>
<line x1="381.5" y1="502.25999999999993" x2="384.5" y2="502.25999999999993" stroke="#111" stroke-width="0.9"/>
<line x1="46.6" y1="498.5399999999999" x2="49.6" y2="498.5399999999999" stroke="#111" stroke-width="0.9"/>
<line x1="381.5" y1="498.5399999999999" x2="384.5" y2="498.5399999999999" stroke="#111" stroke-width="0.9"/>
<line x1="46.6" y1="494.8199999999999" x2="49.6" y2="494.8199999999999" stroke="#111" stroke-width="0.9"/>
<line x1="381.5" y1="494.8199999999999" x2="384.5" y2="494.8199999999999" stroke="#111" stroke-width="0.9"/>
<line x1="46.6" y1="491.09999999999985" x2="53.4" y2="491.09999999999985" stroke="#111" stroke-width="0.9"/>
<line x1="377.7" y1="491.09999999999985" x2="384.5" y2="491.09999999999985" stroke="#111" stroke-width="0.9"/>
<line x1="46.6" y1="487.3799999999998" x2="49.6" y2="487.3799999999998" stroke="#111" stroke-width="0.9"/>
<line x1="381.5" y1="487.3799999999998" x2="384.5" y2="487.3799999999998" stroke="#111" stroke-width="0.9"/>
<line x1="46.6" y1="483.6599999999998" x2="49.6" y2="483.6599999999998" stroke="#111" stroke-width="0.9"/>
<line x1="381.5" y1="483.6599999999998" x2="384.5" y2="483.6599999999998" stroke="#111" stroke-width="0.9"/>
<line x1="46.6" y1="479.93999999999977" x2="49.6" y2="479.93999999999977" stroke="#111" stroke-width="0.9"/>
<line x1="381.5" y1="479.93999999999977" x2="384.5" y2="479.93999999999977" stroke="#111" stroke-width="0.9"/>
<line x1="46.6" y1="476.21999999999974" x2="49.6" y2="476.21999999999974" stroke="#111" stroke-width="0.9"/>
<line x1="381.5" y1="476.21999999999974" x2="384.5" y2="476.21999999999974" stroke="#111" stroke-width="0.9"/>
<line x1="46.6" y1="472.4999999999997" x2="53.4" y2="472.4999999999997" stroke="#111" stroke-width="0.9"/>
<line x1="377.7" y1="472.4999999999997" x2="384.5" y2="472.4999999999997" stroke="#111" stroke-width="0.9"/>
<line x1="46.6" y1="468.7799999999997" x2="49.6" y2="468.7799999999997" stroke="#111" stroke-width="0.9"/>
<line x1="381.5" y1="468.7799999999997" x2="384.5" y2="468.7799999999997" stroke="#111" stroke-width="0.9"/>
<line x1="46.6" y1="465.05999999999966" x2="49.6" y2="465.05999999999966" stroke="#111" stroke-width="0.9"/>
<line x1="381.5" y1="465.05999999999966" x2="384.5" y2="465.05999999999966" stroke="#111" stroke-width="0.9"/>
<line x1="46.6" y1="461.33999999999963" x2="49.6" y2="461.33999999999963" stroke="#111" stroke-width="0.9"/>
<line x1="381.5" y1="461.33999999999963" x2="384.5" y2="461.33999999999963" stroke="#111" stroke-width="0.9"/>
<line x1="46.6" y1="457.6199999999996" x2="49.6" y2="457.6199999999996" stroke="#111" stroke-width="0.9"/>
<line x1="381.5" y1="457.6199999999996" x2="384.5" y2="457.6199999999996" stroke="#111" stroke-width="0.9"/>
<line x1="46.6" y1="453.8999999999996" x2="53.4" y2="453.8999999999996" stroke="#111" stroke-width="0.9"/>
<line x1="377.7" y1="453.8999999999996" x2="384.5" y2="453.8999999999996" stroke="#111" stroke-width="0.9"/>
<line x1="46.6" y1="450.17999999999955" x2="49.6" y2="450.17999999999955" stroke="#111" stroke-width="0.9"/>
<line x1="381.5" y1="450.17999999999955" x2="384.5" y2="450.17999999999955" stroke="#111" stroke-width="0.9"/>
<line x1="46.6" y1="446.4599999999995" x2="49.6" y2="446.4599999999995" stroke="#111" stroke-width="0.9"/>
<line x1="381.5" y1="446.4599999999995" x2="384.5" y2="446.4599999999995" stroke="#111" stroke-width="0.9"/>
<line x1="46.6" y1="442.7399999999995" x2="49.6" y2="442.7399999999995" stroke="#111" stroke-width="0.9"/>
<line x1="381.5" y1="442.7399999999995" x2="384.5" y2="442.7399999999995" stroke="#111" stroke-width="0.9"/>
<line x1="46.6" y1="439.01999999999947" x2="49.6" y2="439.01999999999947" stroke="#111" stroke-width="0.9"/>
<line x1="381.5" y1="439.01999999999947" x2="384.5" y2="439.01999999999947" stroke="#111" stroke-width="0.9"/>
<line x1="46.6" y1="435.29999999999944" x2="49.6" y2="435.29999999999944" stroke="#111" stroke-width="0.9"/>
<line x1="381.5" y1="435.29999999999944" x2="384.5" y2="435.29999999999944" stroke="#111" stroke-width="0.9"/>
<line x1="60.8" y1="354.90000000000003" x2="60.8" y2="357.3" stroke="#222" stroke-width="1.1"/>
<line x1="74.85" y1="354.90000000000003" x2="74.85" y2="357.3" stroke="#222" stroke-width="1.1"/>
<line x1="88.9" y1="354.90000000000003" x2="88.9" y2="357.3" stroke="#222" stroke-width="1.1"/>
<line x1="102.95" y1="354.1" x2="102.95" y2="358.1" stroke="#222" stroke-width="1.1"/>
<line x1="117.0" y1="354.90000000000003" x2="117.0" y2="357.3" stroke="#222" stroke-width="1.1"/>
<line x1="131.05" y1="354.90000000000003" x2="131.05" y2="357.3" stroke="#222" stroke-width="1.1"/>
<line x1="145.10000000000002" y1="354.90000000000003" x2="145.10000000000002" y2="357.3" stroke="#222" stroke-width="1.1"/>
<line x1="159.15" y1="354.1" x2="159.15" y2="358.1" stroke="#222" stroke-width="1.1"/>
<line x1="173.2" y1="354.90000000000003" x2="173.2" y2="357.3" stroke="#222" stroke-width="1.1"/>
<line x1="187.25" y1="354.90000000000003" x2="187.25" y2="357.3" stroke="#222" stroke-width="1.1"/>
<line x1="201.3" y1="354.90000000000003" x2="201.3" y2="357.3" stroke="#222" stroke-width="1.1"/>
<line x1="215.35000000000002" y1="354.1" x2="215.35000000000002" y2="358.1" stroke="#222" stroke-width="1.1"/>
<line x1="229.4" y1="354.90000000000003" x2="229.4" y2="357.3" stroke="#222" stroke-width="1.1"/>
<line x1="243.45000000000002" y1="354.90000000000003" x2="243.45000000000002" y2="357.3" stroke="#222" stroke-width="1.1"/>
<line x1="257.5" y1="354.90000000000003" x2="257.5" y2="357.3" stroke="#222" stroke-width="1.1"/>
<line x1="271.55" y1="354.1" x2="271.55" y2="358.1" stroke="#222" stroke-width="1.1"/>
<line x1="285.6" y1="354.90000000000003" x2="285.6" y2="357.3" stroke="#222" stroke-width="1.1"/>
<line x1="299.65" y1="354.90000000000003" x2="299.65" y2="357.3" stroke="#222" stroke-width="1.1"/>
<line x1="313.7" y1="354.90000000000003" x2="313.7" y2="357.3" stroke="#222" stroke-width="1.1"/>
<line x1="327.75" y1="354.1" x2="327.75" y2="358.1" stroke="#222" stroke-width="1.1"/>
<line x1="341.8" y1="354.90000000000003" x2="341.8" y2="357.3" stroke="#222" stroke-width="1.1"/>
<line x1="355.85" y1="354.90000000000003" x2="355.85" y2="357.3" stroke="#222" stroke-width="1.1"/>
<line x1="369.90000000000003" y1="354.90000000000003" x2="369.90000000000003" y2="357.3" stroke="#222" stroke-width="1.1"/>
<rect x="46.6" y="354.20000000000005" width="7.4" height="3.9" fill="#6e6e6e" />
<rect x="377.5" y="354.20000000000005" width="7.0" height="3.9" fill="#6e6e6e" />
<line x1="60.8" y1="431.90000000000003" x2="60.8" y2="434.3" stroke="#222" stroke-width="1.1"/>
<line x1="74.85" y1="431.90000000000003" x2="74.85" y2="434.3" stroke="#222" stroke-width="1.1"/>
<line x1="88.9" y1="431.90000000000003" x2="88.9" y2="434.3" stroke="#222" stroke-width="1.1"/>
<line x1="102.95" y1="431.1" x2="102.95" y2="435.1" stroke="#222" stroke-width="1.1"/>
<line x1="117.0" y1="431.90000000000003" x2="117.0" y2="434.3" stroke="#222" stroke-width="1.1"/>
<line x1="131.05" y1="431.90000000000003" x2="131.05" y2="434.3" stroke="#222" stroke-width="1.1"/>
<line x1="145.10000000000002" y1="431.90000000000003" x2="145.10000000000002" y2="434.3" stroke="#222" stroke-width="1.1"/>
<line x1="159.15" y1="431.1" x2="159.15" y2="435.1" stroke="#222" stroke-width="1.1"/>
<line x1="173.2" y1="431.90000000000003" x2="173.2" y2="434.3" stroke="#222" stroke-width="1.1"/>
<line x1="187.25" y1="431.90000000000003" x2="187.25" y2="434.3" stroke="#222" stroke-width="1.1"/>
<line x1="201.3" y1="431.90000000000003" x2="201.3" y2="434.3" stroke="#222" stroke-width="1.1"/>
<line x1="215.35000000000002" y1="431.1" x2="215.35000000000002" y2="435.1" stroke="#222" stroke-width="1.1"/>
<line x1="229.4" y1="431.90000000000003" x2="229.4" y2="434.3" stroke="#222" stroke-width="1.1"/>
<line x1="243.45000000000002" y1="431.90000000000003" x2="243.45000000000002" y2="434.3" stroke="#222" stroke-width="1.1"/>
<line x1="257.5" y1="431.90000000000003" x2="257.5" y2="434.3" stroke="#222" stroke-width="1.1"/>
<line x1="271.55" y1="431.1" x2="271.55" y2="435.1" stroke="#222" stroke-width="1.1"/>
<line x1="285.6" y1="431.90000000000003" x2="285.6" y2="434.3" stroke="#222" stroke-width="1.1"/>
<line x1="299.65" y1="431.90000000000003" x2="299.65" y2="434.3" stroke="#222" stroke-width="1.1"/>
<line x1="313.7" y1="431.90000000000003" x2="313.7" y2="434.3" stroke="#222" stroke-width="1.1"/>
<line x1="327.75" y1="431.1" x2="327.75" y2="435.1" stroke="#222" stroke-width="1.1"/>
<line x1="341.8" y1="431.90000000000003" x2="341.8" y2="434.3" stroke="#222" stroke-width="1.1"/>
<line x1="355.85" y1="431.90000000000003" x2="355.85" y2="434.3" stroke="#222" stroke-width="1.1"/>
<line x1="369.90000000000003" y1="431.90000000000003" x2="369.90000000000003" y2="434.3" stroke="#222" stroke-width="1.1"/>
<rect x="46.6" y="431.20000000000005" width="7.4" height="3.9" fill="#6e6e6e" />
<rect x="377.5" y="431.20000000000005" width="7.0" height="3.9" fill="#6e6e6e" />
<line x1="60.8" y1="507.9" x2="60.8" y2="509.7" stroke="#111" stroke-width="1.0"/>
<line x1="60.8" y1="280" x2="60.8" y2="281.4" stroke="#111" stroke-width="1.0"/>
<line x1="74.85" y1="507.9" x2="74.85" y2="509.7" stroke="#111" stroke-width="1.0"/>
<line x1="74.85" y1="280" x2="74.85" y2="281.4" stroke="#111" stroke-width="1.0"/>
<line x1="88.9" y1="507.9" x2="88.9" y2="509.7" stroke="#111" stroke-width="1.0"/>
<line x1="88.9" y1="280" x2="88.9" y2="281.4" stroke="#111" stroke-width="1.0"/>
<line x1="102.95" y1="506.5" x2="102.95" y2="509.7" stroke="#111" stroke-width="1.0"/>
<line x1="102.95" y1="280" x2="102.95" y2="282.4" stroke="#111" stroke-width="1.0"/>
<line x1="117.0" y1="507.9" x2="117.0" y2="509.7" stroke="#111" stroke-width="1.0"/>
<line x1="117.0" y1="280" x2="117.0" y2="281.4" stroke="#111" stroke-width="1.0"/>
<line x1="131.05" y1="507.9" x2="131.05" y2="509.7" stroke="#111" stroke-width="1.0"/>
<line x1="131.05" y1="280" x2="131.05" y2="281.4" stroke="#111" stroke-width="1.0"/>
<line x1="145.10000000000002" y1="507.9" x2="145.10000000000002" y2="509.7" stroke="#111" stroke-width="1.0"/>
<line x1="145.10000000000002" y1="280" x2="145.10000000000002" y2="281.4" stroke="#111" stroke-width="1.0"/>
<line x1="159.15" y1="506.5" x2="159.15" y2="509.7" stroke="#111" stroke-width="1.0"/>
<line x1="159.15" y1="280" x2="159.15" y2="282.4" stroke="#111" stroke-width="1.0"/>
<line x1="173.2" y1="507.9" x2="173.2" y2="509.7" stroke="#111" stroke-width="1.0"/>
<line x1="173.2" y1="280" x2="173.2" y2="281.4" stroke="#111" stroke-width="1.0"/>
<line x1="187.25" y1="507.9" x2="187.25" y2="509.7" stroke="#111" stroke-width="1.0"/>
<line x1="187.25" y1="280" x2="187.25" y2="281.4" stroke="#111" stroke-width="1.0"/>
<line x1="201.3" y1="507.9" x2="201.3" y2="509.7" stroke="#111" stroke-width="1.0"/>
<line x1="201.3" y1="280" x2="201.3" y2="281.4" stroke="#111" stroke-width="1.0"/>
<line x1="215.35000000000002" y1="506.5" x2="215.35000000000002" y2="509.7" stroke="#111" stroke-width="1.0"/>
<line x1="215.35000000000002" y1="280" x2="215.35000000000002" y2="282.4" stroke="#111" stroke-width="1.0"/>
<line x1="229.4" y1="507.9" x2="229.4" y2="509.7" stroke="#111" stroke-width="1.0"/>
<line x1="229.4" y1="280" x2="229.4" y2="281.4" stroke="#111" stroke-width="1.0"/>
<line x1="243.45000000000002" y1="507.9" x2="243.45000000000002" y2="509.7" stroke="#111" stroke-width="1.0"/>
<line x1="243.45000000000002" y1="280" x2="243.45000000000002" y2="281.4" stroke="#111" stroke-width="1.0"/>
<line x1="257.5" y1="507.9" x2="257.5" y2="509.7" stroke="#111" stroke-width="1.0"/>
<line x1="257.5" y1="280" x2="257.5" y2="281.4" stroke="#111" stroke-width="1.0"/>
<line x1="271.55" y1="506.5" x2="271.55" y2="509.7" stroke="#111" stroke-width="1.0"/>
<line x1="271.55" y1="280" x2="271.55" y2="282.4" stroke="#111" stroke-width="1.0"/>
<line x1="285.6" y1="507.9" x2="285.6" y2="509.7" stroke="#111" stroke-width="1.0"/>
<line x1="285.6" y1="280" x2="285.6" y2="281.4" stroke="#111" stroke-width="1.0"/>
<line x1="299.65" y1="507.9" x2="299.65" y2="509.7" stroke="#111" stroke-width="1.0"/>
<line x1="299.65" y1="280" x2="299.65" y2="281.4" stroke="#111" stroke-width="1.0"/>
<line x1="313.7" y1="507.9" x2="313.7" y2="509.7" stroke="#111" stroke-width="1.0"/>
<line x1="313.7" y1="280" x2="313.7" y2="281.4" stroke="#111" stroke-width="1.0"/>
<line x1="327.75" y1="506.5" x2="327.75" y2="509.7" stroke="#111" stroke-width="1.0"/>
<line x1="327.75" y1="280" x2="327.75" y2="282.4" stroke="#111" stroke-width="1.0"/>
<line x1="341.8" y1="507.9" x2="341.8" y2="509.7" stroke="#111" stroke-width="1.0"/>
<line x1="341.8" y1="280" x2="341.8" y2="281.4" stroke="#111" stroke-width="1.0"/>
<line x1="355.85" y1="507.9" x2="355.85" y2="509.7" stroke="#111" stroke-width="1.0"/>
<line x1="355.85" y1="280" x2="355.85" y2="281.4" stroke="#111" stroke-width="1.0"/>
<line x1="369.90000000000003" y1="507.9" x2="369.90000000000003" y2="509.7" stroke="#111" stroke-width="1.0"/>
<line x1="369.90000000000003" y1="280" x2="369.90000000000003" y2="281.4" stroke="#111" stroke-width="1.0"/>
<text x="36.8" y="303.3" font-size="10.3" font-family="Liberation Serif, serif" fill="#000" text-anchor="end" >2,0</text>
<text x="36.8" y="321.7" font-size="10.3" font-family="Liberation Serif, serif" fill="#000" text-anchor="end" >1,5</text>
<text x="36.8" y="340.1" font-size="10.3" font-family="Liberation Serif, serif" fill="#000" text-anchor="end" >1,0</text>
<text x="36.8" y="359.1" font-size="10.3" font-family="Liberation Serif, serif" fill="#000" text-anchor="end" >0,5</text>
<text x="38.7" y="376.2" font-size="11.2" font-family="Liberation Serif, serif" fill="#000" text-anchor="end" >0,8</text>
<text x="38.7" y="391.5" font-size="11.2" font-family="Liberation Serif, serif" fill="#000" text-anchor="end" >0,6</text>
<text x="38.7" y="406.8" font-size="11.2" font-family="Liberation Serif, serif" fill="#000" text-anchor="end" >0,4</text>
<text x="38.7" y="422.0" font-size="11.2" font-family="Liberation Serif, serif" fill="#000" text-anchor="end" >0,2</text>
<text x="37.7" y="435.8" font-size="10.3" font-family="Liberation Serif, serif" fill="#000" text-anchor="end" >0,0</text>
<text x="37.7" y="455.5" font-size="10.3" font-family="Liberation Serif, serif" fill="#000" text-anchor="end" >2,0</text>
<text x="37.7" y="474.7" font-size="10.3" font-family="Liberation Serif, serif" fill="#000" text-anchor="end" >1,5</text>
<text x="37.7" y="493.4" font-size="10.3" font-family="Liberation Serif, serif" fill="#000" text-anchor="end" >1,0</text>
<text x="37.7" y="512.5" font-size="10.3" font-family="Liberation Serif, serif" fill="#000" text-anchor="end" >0,5</text>
<text x="47.0" y="522.4" font-size="8.7" font-family="Liberation Sans, sans-serif" fill="#111" text-anchor="middle" >94 Feb 09</text>
<text x="103.1" y="522.4" font-size="8.7" font-family="Liberation Sans, sans-serif" fill="#111" text-anchor="middle" >94 Feb 10</text>
<text x="159.2" y="522.4" font-size="8.7" font-family="Liberation Sans, sans-serif" fill="#111" text-anchor="middle" >94 Feb 11</text>
<text x="215.3" y="522.4" font-size="8.7" font-family="Liberation Sans, sans-serif" fill="#111" text-anchor="middle" >94 Feb 12</text>
<text x="271.4" y="522.4" font-size="8.7" font-family="Liberation Sans, sans-serif" fill="#111" text-anchor="middle" >94 Feb 13</text>
<text x="327.5" y="522.4" font-size="8.7" font-family="Liberation Sans, sans-serif" fill="#111" text-anchor="middle" >94 Feb 14</text>
<text x="383.6" y="522.4" font-size="8.7" font-family="Liberation Sans, sans-serif" fill="#111" text-anchor="middle" >94 Feb 15</text>
<text transform="translate(13.0,329.2) rotate(-90) scale(1,1)" font-size="13.6" font-family="Liberation Sans, sans-serif" fill="#000" text-anchor="start" >B, nT</text>
<text transform="translate(15.0,408.8) rotate(-90) scale(1,1)" font-size="13.6" font-family="Liberation Sans, sans-serif" fill="#000" text-anchor="start" >n, 1/cm<tspan dy="-4.5" font-size="10">3</tspan></text>
<text transform="translate(14.3,502.4) rotate(-90) scale(1,1)" font-size="13.5" font-family="Liberation Sans, sans-serif" fill="#000" text-anchor="start" >T x 10<tspan dy="-3" font-size="11.5">5</tspan><tspan dy="3">, deg</tspan></text>
<rect x="459.0" y="42.0" width="263.0" height="187.5" fill="#c0c0c0" />
<line x1="459.0" y1="42.5" x2="722.0" y2="42.5" stroke="#9a9a9a" stroke-width="1"/>
<path d="M459,119 L460.6,106 L462,99 L463.4,103 L465,120 L466.2,123 L467.8,110 L469.4,103 L471,112 L472.6,124 L474.2,117 L475.8,114 L477.4,117 L478.6,110 L480.2,119 L481.8,128 L483.4,125 L485,121 L486.6,122 L488.2,124 L489.8,119 L491.4,110 L493,117 L494.6,124 L496.2,119 L497.8,109 L499.4,120 L501,126 L502.6,125 L504.2,126 L505.8,128 L507,129 L508.6,106 L510.6,80 L512,63 L513.4,62.4 L515,80 L517,98 L519,118 L521,136 L522.2,144 L523,130 L524.2,120 L525.4,111 L527,110 L528.6,113 L530.2,128 L531.8,120 L533.4,114 L535,108 L536.2,109 L537.8,126 L539,116 L540.2,102 L541.4,108 L543,124 L544.6,135 L545.8,120 L547,106 L548.6,110 L550.2,119 L551.8,120 L553.4,128 L555,120 L557,109 L559,105 L561,104 L563,103.6 L564.2,103 L565.8,122 L567.4,106 L569.4,92 L571,83 L572.6,76 L574.2,86 L575.8,97 L577,100 L578.2,136 L579.4,120 L580.6,104 L581.8,120 L583,126 L584.6,113 L586.2,103 L587.8,104 L589.4,113 L591,123 L592.6,111 L594.2,104 L595.8,106 L597.4,111 L599,114 L600.6,108 L602.4,114 L604,106 L605.6,94 L607.2,106 L608.8,113 L610.4,116 L612,121 L613.6,114 L615.2,108 L616.8,105 L618.4,124 L620,116 L621.2,109 L622.4,157 L623.6,128 L625.6,110 L627.2,104 L628.8,99 L629.6,97 L630.8,106 L632.4,114 L634,116 L635.6,124 L637.2,132 L638.8,134 L640.4,120 L642,105 L643.6,116 L645.2,128 L646.8,134 L648.4,128 L650,121 L651.6,119 L653.2,116 L654.8,124 L656.4,128 L658,108 L659.2,107 L660.8,113 L662.4,109 L664,107 L665.6,106 L667,112 L668.4,124 L670,145 L671.2,149 L672.4,120 L673.6,104 L675.2,105 L676.8,103.6 L678.4,106 L680,116 L681.6,119 L683.2,124 L684.8,116 L686.4,107 L688,116 L689.6,128 L691.2,118 L692.8,107 L694.4,116 L696,124 L697.6,120 L699.2,109 L700.8,116 L702.4,120 L704,114 L705.6,116 L707.2,108 L708.4,104.4 L710,114 L711.6,130 L712.8,140 L714,120 L715.2,112 L716.8,120 L718.4,116 L720,118 L721.6,116" fill="none" stroke="#ffff10" stroke-width="1.35" stroke-linejoin="round" stroke-linecap="round" />
<path d="M459,168 L461,167.6 L462.6,162 L464.2,167 L465.8,164 L467.4,161.6 L469.4,161 L471.4,161.6 L473.4,156 L475,152 L476.6,149.6 L478.2,150 L479.8,153 L481.4,157 L483,160 L484.6,162 L486.2,162.4 L487.8,161 L489.4,160 L491,163 L493,166 L494.6,168 L495.8,171.6 L497,162 L498.2,153 L499.4,156 L501,160 L502.6,161 L504.2,163 L505.8,166 L507.4,170 L508.6,166 L509.8,155 L511,170 L512.2,194 L513.4,214 L514.2,218 L515.4,206 L516.6,182 L517.8,156 L518.6,147 L519.8,154 L521,160 L522.6,158 L524.2,155 L525.8,159 L527,162 L528.2,157 L529.8,155 L531.4,157 L533,153 L534.6,149.6 L535.8,152 L537,160 L538.2,167 L539.8,167.6 L541,160 L542.6,152 L544.2,147 L545.4,144 L546.6,141 L547.4,148 L548.6,158 L550.2,168 L551.8,176 L553,180 L554.2,173 L555.8,163 L557.4,157 L559,154.4 L560.6,156 L562.2,161 L563.4,158 L564.6,160 L565.8,170 L567.4,182 L569,194 L570.2,204 L571.4,194 L573,170 L574.2,156 L575,151 L576.2,164 L577.4,174 L579,170 L580.6,166 L582.2,164 L583.8,162 L585.4,159 L587,168 L588.2,173 L589.8,166 L591.4,158 L592.6,153.6 L593.8,160 L595,167 L596.6,160 L598.2,156 L599.8,152 L601.2,149 L602.4,154 L604,158 L605.6,151 L607.2,160 L608.4,167 L609.6,162 L611.2,156 L612.8,155 L614.4,156 L616,151 L617.2,149 L618.4,156 L619.6,164 L620.8,162 L622,166 L623.6,173 L625.2,179 L626.8,183.6 L628,185 L629.2,170 L630.4,158 L632,160 L633.6,163 L635.2,156 L636.4,150 L637.6,158 L639.2,166 L640.8,166 L642,160 L643.2,153 L644.4,164 L645.6,171 L647.2,172 L648.8,165 L650.4,161 L652,161 L653.6,164 L655.2,166 L656.8,164 L658,162.4 L659.6,164 L661.2,169 L662.4,178 L664,177 L665.2,186 L666.4,193.6 L667.6,186 L668.8,176 L670,164 L671.2,157 L672.8,155.6 L674.4,156 L676,157 L677.6,159.6 L679.2,161 L680.4,164.4 L682,162 L683.6,167 L685.2,165 L686.8,164 L688.4,169 L689.6,173 L690.8,176 L692.4,172 L694,166 L695.6,162 L697.2,167 L698.8,169 L700.4,166 L702,161 L703.6,160 L705.2,161 L706.8,159 L708.4,162 L710,161 L711.6,158 L713.2,156 L714.4,161 L715.6,154 L716.8,148 L718,154 L719.2,160 L720.4,163 L721.6,166" fill="none" stroke="#0a0a0a" stroke-width="1.25" stroke-linejoin="round" stroke-linecap="round" />
<path d="M459,138 L460.6,140 L462.2,139 L463.8,144 L465.4,141 L467,138 L468.6,144 L470.2,140 L471.8,132 L473.4,127 L475,126 L476.6,131 L478.2,136 L479.8,130 L481,123 L482.6,128 L484.2,134 L485.8,140 L487,134 L488.2,128 L489.8,136 L491.4,131 L492.6,134 L494.2,142 L495.8,156 L497.4,135 L499,128 L500.6,138 L501.8,131 L503,126 L504.6,132 L506.2,135 L507.4,128 L508.6,152 L509.6,180 L511.4,110 L513,76 L513.8,64 L515,84 L516.6,110 L518.6,136 L520.2,148 L521.4,136 L523,126 L524.6,125 L526.2,130 L527.4,124 L529,112.4 L530.2,124 L531,153 L532.6,140 L534.6,128 L535.8,119 L537,126 L538.6,134 L540.2,148 L541.8,146 L543.8,144 L545.4,140 L547,144 L548.6,154 L550.2,120 L551.4,109 L552.6,120 L553.8,130 L555,138 L556.6,133 L558.2,133 L559.8,138 L561.8,139.6 L563.8,138 L565.4,140 L567,124 L568.6,106 L570.2,99 L571.4,106 L573,120 L574.6,134 L576.2,139 L577.8,137 L579.4,140 L581,128 L582.2,121 L583.8,124 L585.4,134 L587,138 L588.6,130 L590.2,125 L591.8,124 L593.4,127 L595,132 L596.6,140 L598.2,144 L599.8,138 L602.4,148 L604,140 L605.6,135 L607.2,134 L608.8,134 L610.4,130 L612,123 L613.6,130 L614.8,136 L616,128 L617.2,126 L618.4,136 L620,144 L621.2,132 L622.8,124 L624,118 L625.2,114 L626.4,120 L628,130 L629.6,140 L631.2,157 L632.8,142 L634.4,133 L636,130 L637.6,135 L639.2,132 L640.4,127 L641.6,134 L642.8,144 L644.2,156 L646,142 L647.6,136 L649.2,129 L650.8,128 L652,134 L653.2,130 L654.8,126.4 L656,127 L657.6,132 L659.2,136 L660.8,140 L662.4,144 L663.6,134 L664.8,112 L666,92 L666.8,87 L668,100 L669.2,120 L670.4,136 L672,144 L673.6,146 L675.2,140 L676.8,132 L678.4,127 L680,126 L681.6,135 L683.2,132 L684.8,125 L686,122 L687.2,128 L688.8,138 L690.4,134 L692,131 L693.6,132 L695.2,135 L696.8,138 L698.4,140 L700,128 L701.6,123 L702.8,124 L704.4,132 L706,138 L707.6,136 L709.2,132 L710.8,131 L712,135 L713.2,138 L714.4,135 L715.6,142 L716.8,128 L718,110 L719.2,99 L720.4,116 L721.6,128" fill="none" stroke="#1a1af0" stroke-width="1.35" stroke-linejoin="round" stroke-linecap="round" />
<rect x="466" y="49.4" width="36.4" height="40.8" fill="#c0c0c0" stroke="#666" stroke-width="1"/>
<line x1="469" y1="56.7" x2="485.4" y2="56.7" stroke="#222" stroke-width="1.4"/>
<line x1="469" y1="70.2" x2="485.4" y2="70.2" stroke="#ffff10" stroke-width="1.4"/>
<line x1="469" y1="84.2" x2="485.4" y2="84.2" stroke="#1a1af0" stroke-width="1.4"/>
<text x="487.8" y="59.8" font-size="9.2" font-family="Liberation Sans, sans-serif" fill="#111">B<tspan font-size="9" dy="1">r</tspan></text>
<text x="487.8" y="73.3" font-size="9.2" font-family="Liberation Sans, sans-serif" fill="#111">B<tspan font-size="9" dy="1">t</tspan></text>
<text x="487.8" y="87.3" font-size="9.2" font-family="Liberation Sans, sans-serif" fill="#111">B<tspan font-size="9" dy="1">n</tspan></text>
<rect x="508.6" y="37.8" width="11.799999999999955" height="196.8" fill="#ffff00" fill-opacity="0.26"/>
<rect x="564.6" y="37.8" width="16.199999999999932" height="196.8" fill="#ffff00" fill-opacity="0.26"/>
<rect x="619.4" y="37.8" width="18.399999999999977" height="196.8" fill="#ffff00" fill-opacity="0.26"/>
<rect x="657.2" y="37.8" width="16.0" height="196.8" fill="#ffff00" fill-opacity="0.26"/>
<line x1="459.0" y1="42.0" x2="459.0" y2="229.5" stroke="#868686" stroke-width="1"/>
<line x1="459.0" y1="229.5" x2="722.0" y2="229.5" stroke="#868686" stroke-width="1"/>
<line x1="456.2" y1="42.0" x2="459.0" y2="42.0" stroke="#868686" stroke-width="1"/>
<text x="452.9" y="45.4" font-size="8.9" font-family="Liberation Sans, sans-serif" fill="#111" text-anchor="end" >1,2</text>
<line x1="456.2" y1="57.625" x2="459.0" y2="57.625" stroke="#868686" stroke-width="1"/>
<text x="452.9" y="61.025" font-size="8.9" font-family="Liberation Sans, sans-serif" fill="#111" text-anchor="end" >1</text>
<line x1="456.2" y1="73.25" x2="459.0" y2="73.25" stroke="#868686" stroke-width="1"/>
<text x="452.9" y="76.65" font-size="8.9" font-family="Liberation Sans, sans-serif" fill="#111" text-anchor="end" >0,8</text>
<line x1="456.2" y1="88.875" x2="459.0" y2="88.875" stroke="#868686" stroke-width="1"/>
<text x="452.9" y="92.275" font-size="8.9" font-family="Liberation Sans, sans-serif" fill="#111" text-anchor="end" >0,6</text>
<line x1="456.2" y1="104.5" x2="459.0" y2="104.5" stroke="#868686" stroke-width="1"/>
<text x="452.9" y="107.9" font-size="8.9" font-family="Liberation Sans, sans-serif" fill="#111" text-anchor="end" >0,4</text>
<line x1="456.2" y1="120.125" x2="459.0" y2="120.125" stroke="#868686" stroke-width="1"/>
<text x="452.9" y="123.525" font-size="8.9" font-family="Liberation Sans, sans-serif" fill="#111" text-anchor="end" >0,2</text>
<line x1="456.2" y1="135.75" x2="459.0" y2="135.75" stroke="#868686" stroke-width="1"/>
<text x="452.9" y="139.15" font-size="8.9" font-family="Liberation Sans, sans-serif" fill="#111" text-anchor="end" >0</text>
<line x1="456.2" y1="151.375" x2="459.0" y2="151.375" stroke="#868686" stroke-width="1"/>
<text x="452.9" y="154.775" font-size="8.9" font-family="Liberation Sans, sans-serif" fill="#111" text-anchor="end" >-0,2</text>
<line x1="456.2" y1="167.0" x2="459.0" y2="167.0" stroke="#868686" stroke-width="1"/>
<text x="452.9" y="170.4" font-size="8.9" font-family="Liberation Sans, sans-serif" fill="#111" text-anchor="end" >-0,4</text>
<line x1="456.2" y1="182.625" x2="459.0" y2="182.625" stroke="#868686" stroke-width="1"/>
<text x="452.9" y="186.025" font-size="8.9" font-family="Liberation Sans, sans-serif" fill="#111" text-anchor="end" >-0,6</text>
<line x1="456.2" y1="198.25" x2="459.0" y2="198.25" stroke="#868686" stroke-width="1"/>
<text x="452.9" y="201.65" font-size="8.9" font-family="Liberation Sans, sans-serif" fill="#111" text-anchor="end" >-0,8</text>
<line x1="456.2" y1="213.875" x2="459.0" y2="213.875" stroke="#868686" stroke-width="1"/>
<text x="452.9" y="217.275" font-size="8.9" font-family="Liberation Sans, sans-serif" fill="#111" text-anchor="end" >-1</text>
<line x1="456.2" y1="229.5" x2="459.0" y2="229.5" stroke="#868686" stroke-width="1"/>
<text x="452.9" y="232.9" font-size="8.9" font-family="Liberation Sans, sans-serif" fill="#111" text-anchor="end" >-1,2</text>
<line x1="459.0" y1="229.5" x2="459.0" y2="232.3" stroke="#868686" stroke-width="1"/>
<text transform="translate(462.3,267.9) rotate(-90) scale(1,1.1)" font-size="8.8" font-family="Liberation Sans, sans-serif" fill="#111" text-anchor="start" textLength="31.4" lengthAdjust="spacingAndGlyphs">17.01.94</text>
<line x1="474.31" y1="229.5" x2="474.31" y2="232.3" stroke="#868686" stroke-width="1"/>
<text transform="translate(477.61,267.9) rotate(-90) scale(1,1.1)" font-size="8.8" font-family="Liberation Sans, sans-serif" fill="#111" text-anchor="start" textLength="31.4" lengthAdjust="spacingAndGlyphs">24.01.94</text>
<line x1="489.62" y1="229.5" x2="489.62" y2="232.3" stroke="#868686" stroke-width="1"/>
<text transform="translate(492.92,267.9) rotate(-90) scale(1,1.1)" font-size="8.8" font-family="Liberation Sans, sans-serif" fill="#111" text-anchor="start" textLength="31.4" lengthAdjust="spacingAndGlyphs">31.01.94</text>
<line x1="504.93" y1="229.5" x2="504.93" y2="232.3" stroke="#868686" stroke-width="1"/>
<text transform="translate(508.23,267.9) rotate(-90) scale(1,1.1)" font-size="8.8" font-family="Liberation Sans, sans-serif" fill="#111" text-anchor="start" textLength="31.4" lengthAdjust="spacingAndGlyphs">07.02.94</text>
<line x1="520.24" y1="229.5" x2="520.24" y2="232.3" stroke="#868686" stroke-width="1"/>
<text transform="translate(523.54,267.9) rotate(-90) scale(1,1.1)" font-size="8.8" font-family="Liberation Sans, sans-serif" fill="#111" text-anchor="start" textLength="31.4" lengthAdjust="spacingAndGlyphs">14.02.94</text>
<line x1="535.55" y1="229.5" x2="535.55" y2="232.3" stroke="#868686" stroke-width="1"/>
<text transform="translate(538.8499999999999,267.9) rotate(-90) scale(1,1.1)" font-size="8.8" font-family="Liberation Sans, sans-serif" fill="#111" text-anchor="start" textLength="31.4" lengthAdjust="spacingAndGlyphs">21.02.94</text>
<line x1="550.86" y1="229.5" x2="550.86" y2="232.3" stroke="#868686" stroke-width="1"/>
<text transform="translate(554.16,267.9) rotate(-90) scale(1,1.1)" font-size="8.8" font-family="Liberation Sans, sans-serif" fill="#111" text-anchor="start" textLength="31.4" lengthAdjust="spacingAndGlyphs">28.02.94</text>
<line x1="566.17" y1="229.5" x2="566.17" y2="232.3" stroke="#868686" stroke-width="1"/>
<text transform="translate(569.4699999999999,267.9) rotate(-90) scale(1,1.1)" font-size="8.8" font-family="Liberation Sans, sans-serif" fill="#111" text-anchor="start" textLength="31.4" lengthAdjust="spacingAndGlyphs">07.03.94</text>
<line x1="581.48" y1="229.5" x2="581.48" y2="232.3" stroke="#868686" stroke-width="1"/>
<text transform="translate(584.78,267.9) rotate(-90) scale(1,1.1)" font-size="8.8" font-family="Liberation Sans, sans-serif" fill="#111" text-anchor="start" textLength="31.4" lengthAdjust="spacingAndGlyphs">14.03.94</text>
<line x1="596.79" y1="229.5" x2="596.79" y2="232.3" stroke="#868686" stroke-width="1"/>
<text transform="translate(600.0899999999999,267.9) rotate(-90) scale(1,1.1)" font-size="8.8" font-family="Liberation Sans, sans-serif" fill="#111" text-anchor="start" textLength="31.4" lengthAdjust="spacingAndGlyphs">21.03.94</text>
<line x1="612.1" y1="229.5" x2="612.1" y2="232.3" stroke="#868686" stroke-width="1"/>
<text transform="translate(615.4,267.9) rotate(-90) scale(1,1.1)" font-size="8.8" font-family="Liberation Sans, sans-serif" fill="#111" text-anchor="start" textLength="31.4" lengthAdjust="spacingAndGlyphs">28.03.94</text>
<line x1="627.41" y1="229.5" x2="627.41" y2="232.3" stroke="#868686" stroke-width="1"/>
<text transform="translate(630.7099999999999,267.9) rotate(-90) scale(1,1.1)" font-size="8.8" font-family="Liberation Sans, sans-serif" fill="#111" text-anchor="start" textLength="31.4" lengthAdjust="spacingAndGlyphs">04.04.94</text>
<line x1="642.72" y1="229.5" x2="642.72" y2="232.3" stroke="#868686" stroke-width="1"/>
<text transform="translate(646.02,267.9) rotate(-90) scale(1,1.1)" font-size="8.8" font-family="Liberation Sans, sans-serif" fill="#111" text-anchor="start" textLength="31.4" lengthAdjust="spacingAndGlyphs">11.04.94</text>
<line x1="658.03" y1="229.5" x2="658.03" y2="232.3" stroke="#868686" stroke-width="1"/>
<text transform="translate(661.3299999999999,267.9) rotate(-90) scale(1,1.1)" font-size="8.8" font-family="Liberation Sans, sans-serif" fill="#111" text-anchor="start" textLength="31.4" lengthAdjust="spacingAndGlyphs">18.04.94</text>
<line x1="673.34" y1="229.5" x2="673.34" y2="232.3" stroke="#868686" stroke-width="1"/>
<text transform="translate(676.64,267.9) rotate(-90) scale(1,1.1)" font-size="8.8" font-family="Liberation Sans, sans-serif" fill="#111" text-anchor="start" textLength="31.4" lengthAdjust="spacingAndGlyphs">25.04.94</text>
<line x1="688.65" y1="229.5" x2="688.65" y2="232.3" stroke="#868686" stroke-width="1"/>
<text transform="translate(691.9499999999999,267.9) rotate(-90) scale(1,1.1)" font-size="8.8" font-family="Liberation Sans, sans-serif" fill="#111" text-anchor="start" textLength="31.4" lengthAdjust="spacingAndGlyphs">02.05.94</text>
<line x1="703.96" y1="229.5" x2="703.96" y2="232.3" stroke="#868686" stroke-width="1"/>
<text transform="translate(707.26,267.9) rotate(-90) scale(1,1.1)" font-size="8.8" font-family="Liberation Sans, sans-serif" fill="#111" text-anchor="start" textLength="31.4" lengthAdjust="spacingAndGlyphs">09.05.94</text>
<line x1="719.27" y1="229.5" x2="719.27" y2="232.3" stroke="#868686" stroke-width="1"/>
<text transform="translate(722.5699999999999,267.9) rotate(-90) scale(1,1.1)" font-size="8.8" font-family="Liberation Sans, sans-serif" fill="#111" text-anchor="start" textLength="31.4" lengthAdjust="spacingAndGlyphs">16.05.94</text>
<text transform="translate(437.4,143.4) rotate(-90) scale(1,1)" font-size="9.6" font-family="Liberation Sans, sans-serif" fill="#000" text-anchor="start" stroke="#000" stroke-width="0.2">nT</text>
<text x="514.2" y="38.8" font-size="15" font-family="Liberation Serif, serif" fill="#000" text-anchor="middle" >I</text>
<text x="572.4" y="38.8" font-size="15" font-family="Liberation Serif, serif" fill="#000" text-anchor="middle" >II</text>
<text x="627.2" y="38.8" font-size="15" font-family="Liberation Serif, serif" fill="#000" text-anchor="middle" >III</text>
<text x="665.4" y="38.8" font-size="15" font-family="Liberation Serif, serif" fill="#000" text-anchor="middle" >IV</text>
<text x="430.6" y="278.2" font-size="17.5" font-family="Liberation Serif, serif" fill="#000" text-anchor="start" >b)</text>
<rect x="459.0" y="296.8" width="263.0" height="181.59999999999997" fill="#c0c0c0" />
<line x1="459.0" y1="297.3" x2="722.0" y2="297.3" stroke="#9a9a9a" stroke-width="1"/>
<path d="M459,433 L460.6,427 L462.2,428 L463.8,427 L465.4,424 L467,428 L468.6,429 L470.2,432 L471.8,440 L473.4,439 L475,438 L476.6,437 L477.8,430 L479,424 L480.2,433 L481.4,435 L483,437 L484.6,441 L485.8,442 L487.4,438 L489,434 L490.6,430 L492.2,428 L493.8,431 L495.4,439 L497,428 L498.6,417 L500.2,422 L501.4,417 L502.6,416 L503.8,426 L505.4,438 L507,445 L508.2,430 L509.4,406 L510.6,390 L511.8,381 L513,388 L514.2,390 L515.4,387 L516.6,394 L517.8,406 L519,420 L520.2,427 L521.8,426 L523.4,425 L525,424.4 L526.6,425 L528.2,428 L529.8,433 L531.4,438 L533,434 L534.6,428 L535.8,423 L537,432 L538.2,439 L539.4,430 L540.6,427 L541.8,431 L543,435 L544.6,428 L545.8,419 L547,416 L548.6,420 L550.2,425 L551.4,430 L552.6,424 L553.8,419 L555,431 L556.6,428 L558.2,425 L559.8,423 L561.4,422 L563,421 L564.2,420 L565.4,432 L566.6,440 L567.8,439 L569,436 L570.2,428 L571.4,412 L572.6,396 L573.4,390 L574.6,402 L575.8,416 L577,426 L578.2,422 L579.4,416 L580.6,426 L581.8,434 L583.4,430 L585,427 L586.6,425 L587.8,428 L589,423 L590.2,419 L591.4,423 L592.6,418 L593.8,419 L595,416 L596.2,423 L597.4,429 L599,434 L600.6,433 L601.2,431 L602.8,428 L604.4,425 L606,426 L607.6,428 L609.2,429 L610.8,425 L612.4,422 L614,420 L615.2,419 L616.4,425 L618,433 L619.2,437 L620.8,432 L622.4,426 L623.6,416 L624.8,406 L625.6,401 L626.4,416 L627.6,434 L628.4,420 L629.6,404 L630.4,402 L631.6,410 L633.2,419 L634.8,424 L636.4,428 L638,422 L639.6,419 L641.2,418.4 L642.8,420 L644.4,425 L646,429 L647.6,430 L648.8,423 L650,419 L651.2,425 L652.4,428 L654,425 L655.6,421 L657.2,417 L658.4,415 L659.6,423 L660.8,420 L662,414 L663.2,413 L664.4,420 L665.6,425 L666.8,422 L668,417 L669.2,414.4 L670.4,420 L672,425 L673.6,426.4 L675.2,423 L676.8,419 L678,417 L679.2,422 L680.8,426 L682.4,428 L684,429.6 L685.2,430 L686.4,425 L687.6,418 L688.8,412 L690,420 L691.2,428 L692.4,425 L694,421 L695.6,420 L696.8,423 L698,427 L699.2,420 L700.4,419 L701.6,423 L703.2,426 L704.8,423 L706.4,420 L707.6,419 L709.2,421.6 L710.8,422 L712.4,421.6 L713.6,419 L714.8,411 L716,411 L717.6,412 L719.2,414 L720.4,417 L721.6,423" fill="none" stroke="#ff1a0a" stroke-width="1.4" stroke-linejoin="round" stroke-linecap="round" />
<g clip-path="url(#clipq)"><path d="M459,406 L460.6,399 L462.2,405 L463.8,399 L465.4,398 L467,406 L468.6,408 L470.2,409 L471.8,419 L473.4,420 L475,420 L476.6,421 L477.8,411 L479,404 L480.2,412 L481.4,417 L483,415 L484.6,417 L485.8,420 L487.4,416 L489,411 L490.6,406 L492.2,401 L493.8,405 L495.4,411 L497,404 L498.6,396 L500.2,400 L501.4,395 L502.6,395 L503.8,404 L505.4,412 L507,418 L508.2,404 L509,392 L510.2,368 L511.4,344 L512.6,328 L513.8,318 L515,322 L516.2,336 L517.4,364 L518.6,386 L519.4,396 L520.2,402 L521.4,407 L523,404 L524.6,406 L526.2,404 L527.8,408 L529.4,414 L531,420 L532.6,418 L534.2,410 L535.8,404 L537,411 L538.2,416 L539.4,406 L540.2,401 L541.4,410 L542.6,419 L544.2,413 L545.8,402 L547,396 L548.6,397 L550.2,400 L551.8,392 L553,384 L554.2,400 L555.4,410 L557,407 L559,404 L561,401 L562.6,399 L563.8,400 L565,410 L566.2,418 L567.4,406 L569,392 L570.2,374 L571.4,354 L572.6,343 L573.8,358 L575,374 L576.6,390 L577.8,396 L578.6,392 L579.8,388 L581,400 L582.2,412 L583.8,406 L585.4,404 L587,402 L588.6,399 L590.2,397 L591.8,406 L593,402 L594.2,394 L595.4,402 L597,412 L598.6,418 L600.2,417 L601.2,417 L602.8,410 L604.4,405 L606,404 L607.6,403.6 L609.2,408 L610.4,404 L612,401 L613.6,398 L614.8,397 L616,403 L617.6,409 L619.2,411 L620.8,404 L622,396 L623.2,386 L624.4,366 L625.6,355 L626.8,374 L627.6,392 L628.8,382 L630,370.4 L631.2,380 L632,386 L633.6,396 L635.2,404 L636.4,409 L637.6,402 L638.8,394 L640.4,393.6 L642,397 L643.6,400 L645.2,401 L646.8,400 L648.4,402 L649.6,399 L650.8,405 L652,409 L653.6,404 L655.2,401 L656.8,398 L658.4,395 L659.6,401 L660.8,394 L662,386 L662.6,380.4 L663.6,392 L664.4,398 L665.6,388 L666.4,378 L667.2,373 L668.4,376 L669.6,378 L670.8,388 L671.6,394 L672.4,400 L674,403.6 L675.6,397 L677.2,392 L678.4,393 L679.6,402 L681.2,403 L682.8,402 L684.4,401 L686,394 L687.6,386 L688.8,381.6 L690,390 L691.2,399 L692.4,395 L693.6,394 L694.8,398 L696.4,402 L698,403 L699.2,396 L700,394 L701.2,401 L702.4,406 L704,403 L705.6,399 L706.8,397.6 L708.4,401 L710,400 L711.6,399.6 L713.2,402.4 L714.4,392 L715.2,387 L716.4,392 L717.6,397 L718.8,394 L720,395 L721.2,399 L722,402" fill="none" stroke="#20208c" stroke-width="1.05" stroke-linejoin="round" stroke-linecap="round" /></g>
<path d="M459,339 L460.6,342 L462.2,343 L463.8,330 L465,335 L466.6,339 L468.2,338 L469.8,339 L471.4,332 L472.6,329 L473.8,333 L475,327 L476.2,320 L477,319 L478.2,330 L479.4,335 L481,333 L482.6,332 L484.2,333 L485.8,329 L487.4,332 L489,333 L490.2,328 L491.8,338 L493,341 L494.2,330 L495.4,338 L497,346 L498.6,345 L500.2,337 L501.4,333 L503,340 L504.2,333 L505.4,330 L506.6,336 L507.8,350 L509,364 L510.6,375 L511.8,378 L513.4,376 L515,366 L516.6,350 L517.8,335 L519,330 L520.6,327 L522.2,328 L523.8,332 L525.4,336 L527,337 L528.6,330 L530.2,327 L531.8,325.6 L533.4,326.4 L535,327 L536.6,328 L537.8,327.6 L539,336 L540.2,347 L541.4,330 L542.6,323 L543.8,327 L545.4,333 L547,340 L548.6,348 L550.2,354 L551,355 L552.2,344 L553.4,330 L555,322 L556.6,320 L557.8,320.4 L559,326 L560.6,332 L562.2,335 L563.4,332 L564.6,333 L565.8,344 L567.4,358 L568.6,364 L570.2,363 L571.8,360 L573,352 L574.2,340 L575.4,336 L576.6,346 L577.8,344 L579.4,338 L581,332 L582.6,331 L584.2,335 L585.8,337 L587.4,343 L589,344 L590.6,343 L592.2,337 L593.4,336 L594.6,348 L596.2,338 L597.8,328 L599,326 L600.6,327 L602.4,330 L604,333 L605.6,337 L607.2,337.6 L608.8,333 L610,329 L611.6,332 L613.2,336 L614.8,339 L616.4,335 L618,338 L619.6,338.4 L621.2,336.4 L623.2,335.6 L624.4,344 L625.6,350 L627.2,349.6 L628.8,348.4 L630.4,344 L632,339 L633.6,337 L635.2,332 L636.4,328 L637.6,334 L639.2,339 L640.8,341 L642.4,343 L644,347 L645.2,348.4 L646.4,344 L647.6,336 L648.8,330 L650,327 L651.6,329 L652.8,336 L654,339 L655.2,332 L656,330.4 L657.2,335 L658.4,340 L659.6,345 L660.8,347 L662.4,349 L663.6,356 L664.8,362 L666,363.6 L667.2,363 L668.4,354 L669.6,342 L670.8,331 L671.6,329 L672.8,333 L674.4,338 L675.6,340 L677.2,338 L678.8,336.4 L680.4,335.6 L682,333 L683.6,337 L685.2,338 L686.8,337.6 L688.4,337.2 L690,337.6 L691.6,338 L693.2,347 L694,342 L695.2,333 L696,331.6 L697.2,335 L698.8,340 L700,343 L701.2,337 L702.4,333 L704,335 L705.6,333.6 L706.8,333 L708,336 L709.6,339 L711.2,341.6 L712.4,339 L713.6,337.6 L714.8,341 L716,337 L717.2,333 L718.4,335 L719.6,338 L720.8,334.4 L722,333" fill="none" stroke="#22ee22" stroke-width="1.4" stroke-linejoin="round" stroke-linecap="round" />
<rect x="508.6" y="293.0" width="11.799999999999955" height="185.39999999999998" fill="#ffff00" fill-opacity="0.26"/>
<rect x="564.6" y="293.0" width="16.199999999999932" height="185.39999999999998" fill="#ffff00" fill-opacity="0.26"/>
<rect x="619.4" y="293.0" width="18.399999999999977" height="185.39999999999998" fill="#ffff00" fill-opacity="0.26"/>
<rect x="657.2" y="293.0" width="16.0" height="185.39999999999998" fill="#ffff00" fill-opacity="0.26"/>
<line x1="459.0" y1="296.8" x2="459.0" y2="478.4" stroke="#868686" stroke-width="1"/>
<line x1="459.0" y1="478.4" x2="722.0" y2="478.4" stroke="#868686" stroke-width="1"/>
<line x1="722.0" y1="296.8" x2="722.0" y2="478.4" stroke="#868686" stroke-width="1"/>
<line x1="456.2" y1="296.8" x2="459.0" y2="296.8" stroke="#868686" stroke-width="1"/>
<text x="452.9" y="300.2" font-size="8.9" font-family="Liberation Sans, sans-serif" fill="#111" text-anchor="end" >2</text>
<line x1="456.2" y1="314.96000000000004" x2="459.0" y2="314.96000000000004" stroke="#868686" stroke-width="1"/>
<text x="452.9" y="318.36" font-size="8.9" font-family="Liberation Sans, sans-serif" fill="#111" text-anchor="end" >1,8</text>
<line x1="456.2" y1="333.12" x2="459.0" y2="333.12" stroke="#868686" stroke-width="1"/>
<text x="452.9" y="336.52" font-size="8.9" font-family="Liberation Sans, sans-serif" fill="#111" text-anchor="end" >1,6</text>
<line x1="456.2" y1="351.28000000000003" x2="459.0" y2="351.28000000000003" stroke="#868686" stroke-width="1"/>
<text x="452.9" y="354.68" font-size="8.9" font-family="Liberation Sans, sans-serif" fill="#111" text-anchor="end" >1,4</text>
<line x1="456.2" y1="369.44" x2="459.0" y2="369.44" stroke="#868686" stroke-width="1"/>
<text x="452.9" y="372.84" font-size="8.9" font-family="Liberation Sans, sans-serif" fill="#111" text-anchor="end" >1,2</text>
<line x1="456.2" y1="387.6" x2="459.0" y2="387.6" stroke="#868686" stroke-width="1"/>
<text x="452.9" y="391.0" font-size="8.9" font-family="Liberation Sans, sans-serif" fill="#111" text-anchor="end" >1</text>
<line x1="456.2" y1="405.76" x2="459.0" y2="405.76" stroke="#868686" stroke-width="1"/>
<text x="452.9" y="409.15999999999997" font-size="8.9" font-family="Liberation Sans, sans-serif" fill="#111" text-anchor="end" >0,8</text>
<line x1="456.2" y1="423.91999999999996" x2="459.0" y2="423.91999999999996" stroke="#868686" stroke-width="1"/>
<text x="452.9" y="427.31999999999994" font-size="8.9" font-family="Liberation Sans, sans-serif" fill="#111" text-anchor="end" >0,6</text>
<line x1="456.2" y1="442.08" x2="459.0" y2="442.08" stroke="#868686" stroke-width="1"/>
<text x="452.9" y="445.47999999999996" font-size="8.9" font-family="Liberation Sans, sans-serif" fill="#111" text-anchor="end" >0,4</text>
<line x1="456.2" y1="460.24" x2="459.0" y2="460.24" stroke="#868686" stroke-width="1"/>
<text x="452.9" y="463.64" font-size="8.9" font-family="Liberation Sans, sans-serif" fill="#111" text-anchor="end" >0,2</text>
<line x1="456.2" y1="478.4" x2="459.0" y2="478.4" stroke="#868686" stroke-width="1"/>
<text x="452.9" y="481.79999999999995" font-size="8.9" font-family="Liberation Sans, sans-serif" fill="#111" text-anchor="end" >0</text>
<line x1="722.0" y1="296.8" x2="724.6" y2="296.8" stroke="#868686" stroke-width="1"/>
<line x1="722.0" y1="319.5" x2="724.6" y2="319.5" stroke="#868686" stroke-width="1"/>
<line x1="722.0" y1="342.2" x2="724.6" y2="342.2" stroke="#868686" stroke-width="1"/>
<line x1="722.0" y1="364.9" x2="724.6" y2="364.9" stroke="#868686" stroke-width="1"/>
<line x1="722.0" y1="387.6" x2="724.6" y2="387.6" stroke="#868686" stroke-width="1"/>
<line x1="722.0" y1="410.29999999999995" x2="724.6" y2="410.29999999999995" stroke="#868686" stroke-width="1"/>
<line x1="722.0" y1="433.0" x2="724.6" y2="433.0" stroke="#868686" stroke-width="1"/>
<line x1="722.0" y1="455.7" x2="724.6" y2="455.7" stroke="#868686" stroke-width="1"/>
<line x1="722.0" y1="478.4" x2="724.6" y2="478.4" stroke="#868686" stroke-width="1"/>
<text x="729.2" y="300.8" font-size="9.6" font-family="Liberation Sans, sans-serif" fill="#2e9060" text-anchor="start" stroke="#2e9060" stroke-width="0.3">8</text>
<text x="729.2" y="323.5" font-size="9.6" font-family="Liberation Sans, sans-serif" fill="#2e9060" text-anchor="start" stroke="#2e9060" stroke-width="0.3">6</text>
<text x="729.2" y="346.2" font-size="9.6" font-family="Liberation Sans, sans-serif" fill="#2e9060" text-anchor="start" stroke="#2e9060" stroke-width="0.3">4</text>
<text x="729.2" y="368.9" font-size="9.6" font-family="Liberation Sans, sans-serif" fill="#2e9060" text-anchor="start" stroke="#2e9060" stroke-width="0.3">2</text>
<text x="729.2" y="391.6" font-size="9.6" font-family="Liberation Sans, sans-serif" fill="#2e9060" text-anchor="start" stroke="#2e9060" stroke-width="0.3">0</text>
<line x1="459.0" y1="478.4" x2="459.0" y2="481.2" stroke="#868686" stroke-width="1"/>
<text transform="translate(462.3,516.9) rotate(-90) scale(1,1.1)" font-size="8.8" font-family="Liberation Sans, sans-serif" fill="#111" text-anchor="start" textLength="31.4" lengthAdjust="spacingAndGlyphs">17.01.94</text>
<line x1="474.31" y1="478.4" x2="474.31" y2="481.2" stroke="#868686" stroke-width="1"/>
<text transform="translate(477.61,516.9) rotate(-90) scale(1,1.1)" font-size="8.8" font-family="Liberation Sans, sans-serif" fill="#111" text-anchor="start" textLength="31.4" lengthAdjust="spacingAndGlyphs">24.01.94</text>
<line x1="489.62" y1="478.4" x2="489.62" y2="481.2" stroke="#868686" stroke-width="1"/>
<text transform="translate(492.92,516.9) rotate(-90) scale(1,1.1)" font-size="8.8" font-family="Liberation Sans, sans-serif" fill="#111" text-anchor="start" textLength="31.4" lengthAdjust="spacingAndGlyphs">31.01.94</text>
<line x1="504.93" y1="478.4" x2="504.93" y2="481.2" stroke="#868686" stroke-width="1"/>
<text transform="translate(508.23,516.9) rotate(-90) scale(1,1.1)" font-size="8.8" font-family="Liberation Sans, sans-serif" fill="#111" text-anchor="start" textLength="31.4" lengthAdjust="spacingAndGlyphs">07.02.94</text>
<line x1="520.24" y1="478.4" x2="520.24" y2="481.2" stroke="#868686" stroke-width="1"/>
<text transform="translate(523.54,516.9) rotate(-90) scale(1,1.1)" font-size="8.8" font-family="Liberation Sans, sans-serif" fill="#111" text-anchor="start" textLength="31.4" lengthAdjust="spacingAndGlyphs">14.02.94</text>
<line x1="535.55" y1="478.4" x2="535.55" y2="481.2" stroke="#868686" stroke-width="1"/>
<text transform="translate(538.8499999999999,516.9) rotate(-90) scale(1,1.1)" font-size="8.8" font-family="Liberation Sans, sans-serif" fill="#111" text-anchor="start" textLength="31.4" lengthAdjust="spacingAndGlyphs">21.02.94</text>
<line x1="550.86" y1="478.4" x2="550.86" y2="481.2" stroke="#868686" stroke-width="1"/>
<text transform="translate(554.16,516.9) rotate(-90) scale(1,1.1)" font-size="8.8" font-family="Liberation Sans, sans-serif" fill="#111" text-anchor="start" textLength="31.4" lengthAdjust="spacingAndGlyphs">28.02.94</text>
<line x1="566.17" y1="478.4" x2="566.17" y2="481.2" stroke="#868686" stroke-width="1"/>
<text transform="translate(569.4699999999999,516.9) rotate(-90) scale(1,1.1)" font-size="8.8" font-family="Liberation Sans, sans-serif" fill="#111" text-anchor="start" textLength="31.4" lengthAdjust="spacingAndGlyphs">07.03.94</text>
<line x1="581.48" y1="478.4" x2="581.48" y2="481.2" stroke="#868686" stroke-width="1"/>
<text transform="translate(584.78,516.9) rotate(-90) scale(1,1.1)" font-size="8.8" font-family="Liberation Sans, sans-serif" fill="#111" text-anchor="start" textLength="31.4" lengthAdjust="spacingAndGlyphs">14.03.94</text>
<line x1="596.79" y1="478.4" x2="596.79" y2="481.2" stroke="#868686" stroke-width="1"/>
<text transform="translate(600.0899999999999,516.9) rotate(-90) scale(1,1.1)" font-size="8.8" font-family="Liberation Sans, sans-serif" fill="#111" text-anchor="start" textLength="31.4" lengthAdjust="spacingAndGlyphs">21.03.94</text>
<line x1="612.1" y1="478.4" x2="612.1" y2="481.2" stroke="#868686" stroke-width="1"/>
<text transform="translate(615.4,516.9) rotate(-90) scale(1,1.1)" font-size="8.8" font-family="Liberation Sans, sans-serif" fill="#111" text-anchor="start" textLength="31.4" lengthAdjust="spacingAndGlyphs">28.03.94</text>
<line x1="627.41" y1="478.4" x2="627.41" y2="481.2" stroke="#868686" stroke-width="1"/>
<text transform="translate(630.7099999999999,516.9) rotate(-90) scale(1,1.1)" font-size="8.8" font-family="Liberation Sans, sans-serif" fill="#111" text-anchor="start" textLength="31.4" lengthAdjust="spacingAndGlyphs">04.04.94</text>
<line x1="642.72" y1="478.4" x2="642.72" y2="481.2" stroke="#868686" stroke-width="1"/>
<text transform="translate(646.02,516.9) rotate(-90) scale(1,1.1)" font-size="8.8" font-family="Liberation Sans, sans-serif" fill="#111" text-anchor="start" textLength="31.4" lengthAdjust="spacingAndGlyphs">11.04.94</text>
<line x1="658.03" y1="478.4" x2="658.03" y2="481.2" stroke="#868686" stroke-width="1"/>
<text transform="translate(661.3299999999999,516.9) rotate(-90) scale(1,1.1)" font-size="8.8" font-family="Liberation Sans, sans-serif" fill="#111" text-anchor="start" textLength="31.4" lengthAdjust="spacingAndGlyphs">18.04.94</text>
<line x1="673.34" y1="478.4" x2="673.34" y2="481.2" stroke="#868686" stroke-width="1"/>
<text transform="translate(676.64,516.9) rotate(-90) scale(1,1.1)" font-size="8.8" font-family="Liberation Sans, sans-serif" fill="#111" text-anchor="start" textLength="31.4" lengthAdjust="spacingAndGlyphs">25.04.94</text>
<line x1="688.65" y1="478.4" x2="688.65" y2="481.2" stroke="#868686" stroke-width="1"/>
<text transform="translate(691.9499999999999,516.9) rotate(-90) scale(1,1.1)" font-size="8.8" font-family="Liberation Sans, sans-serif" fill="#111" text-anchor="start" textLength="31.4" lengthAdjust="spacingAndGlyphs">02.05.94</text>
<line x1="703.96" y1="478.4" x2="703.96" y2="481.2" stroke="#868686" stroke-width="1"/>
<text transform="translate(707.26,516.9) rotate(-90) scale(1,1.1)" font-size="8.8" font-family="Liberation Sans, sans-serif" fill="#111" text-anchor="start" textLength="31.4" lengthAdjust="spacingAndGlyphs">09.05.94</text>
<line x1="719.27" y1="478.4" x2="719.27" y2="481.2" stroke="#868686" stroke-width="1"/>
<text transform="translate(722.5699999999999,516.9) rotate(-90) scale(1,1.1)" font-size="8.8" font-family="Liberation Sans, sans-serif" fill="#111" text-anchor="start" textLength="31.4" lengthAdjust="spacingAndGlyphs">16.05.94</text>
<text x="465.6" y="314.2" font-size="10.4" font-family="Liberation Sans, sans-serif" fill="#33ee33" text-anchor="start" >beta</text>
<text x="469.3" y="391.8" font-size="8.8" font-family="Liberation Sans, sans-serif" fill="#22229a" text-anchor="start" font-weight="bold">B</text>
<text x="472.1" y="457.2" font-size="9.4" font-family="Liberation Sans, sans-serif" fill="#ff2a1a" text-anchor="start" stroke="#ff2a1a" stroke-width="0.35">E</text>
<text transform="translate(437.0,420.8) rotate(-90) scale(1,1.0)" font-size="9.7" font-family="Liberation Sans, sans-serif" fill="#000" text-anchor="start" textLength="84.8" lengthAdjust="spacingAndGlyphs" stroke="#000" stroke-width="0.2">E x 10<tspan dy="-2.4" font-size="8.6">-3</tspan><tspan dy="2.4"> V/m ; B, nT</tspan></text>
</svg>
</body></html>
